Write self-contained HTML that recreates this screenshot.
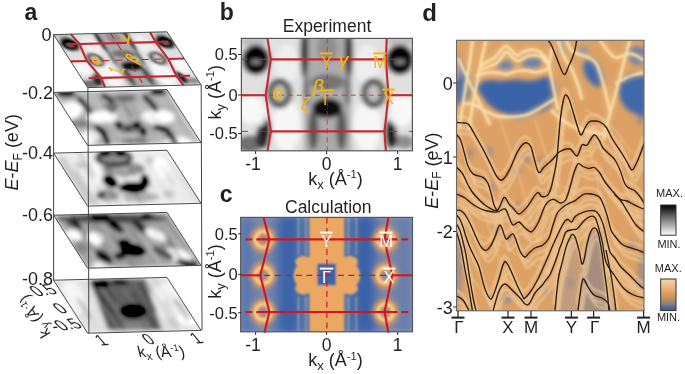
<!DOCTYPE html><html><head><meta charset="utf-8"><style>
html,body{margin:0;padding:0;background:#fff;overflow:hidden}svg{display:block;will-change:transform}
</style></head><body>
<svg width="685" height="374" viewBox="0 0 685 374">
<defs>
<filter id="b2" x="-20%" y="-20%" width="140%" height="140%"><feGaussianBlur stdDeviation="2.4"/></filter>
<filter id="b15" x="-20%" y="-20%" width="140%" height="140%"><feGaussianBlur stdDeviation="2.0"/><feComponentTransfer><feFuncR type="linear" slope="1.15" intercept="-0.06"/><feFuncG type="linear" slope="1.15" intercept="-0.06"/><feFuncB type="linear" slope="1.15" intercept="-0.06"/></feComponentTransfer></filter>
<filter id="b1" x="-20%" y="-20%" width="140%" height="140%"><feGaussianBlur stdDeviation="1"/></filter>
<filter id="b3" x="-20%" y="-20%" width="140%" height="140%"><feGaussianBlur stdDeviation="4.5"/></filter>
<filter id="b05"><feGaussianBlur stdDeviation="0.6"/></filter>
<clipPath id="cl"><rect x="0" y="0" width="170.0" height="112.8"/></clipPath>
<g id="fstex"><g clip-path="url(#cl)"><g filter="url(#b2)"><rect x="-5" y="-5" width="180" height="123" fill="#e0e0e0"/>
<ellipse cx="45" cy="88" rx="14" ry="26" fill="#f6f6f6"/>
<ellipse cx="45" cy="26" rx="12" ry="20" fill="#eeeeee"/>
<ellipse cx="125" cy="88" rx="14" ry="26" fill="#f6f6f6"/>
<ellipse cx="125" cy="26" rx="12" ry="20" fill="#eeeeee"/>
<ellipse cx="10" cy="72" rx="14" ry="14" fill="#f8f8f8"/>
<ellipse cx="160" cy="72" rx="12" ry="16" fill="#f8f8f8"/>
<ellipse cx="12" cy="3" rx="14" ry="5" fill="#bdbdbd"/>
<ellipse cx="158" cy="3" rx="14" ry="5" fill="#bdbdbd"/>
<rect x="62" y="-5" width="47" height="123" fill="#acacac"/>
<ellipse cx="85.5" cy="10" rx="10" ry="14" fill="#8e8e8e"/>
<ellipse cx="85.5" cy="44" rx="17" ry="8" fill="#757575"/>
<ellipse cx="62.5" cy="14" rx="3.8" ry="26" fill="#1e1e1e"/>
<ellipse cx="107" cy="14" rx="3.8" ry="26" fill="#1e1e1e"/>
<ellipse cx="64" cy="52" rx="3" ry="16" fill="#666"/>
<ellipse cx="106" cy="52" rx="3" ry="16" fill="#666"/>
<ellipse cx="71.5" cy="92" rx="5" ry="20" fill="#555"/>
<ellipse cx="99.5" cy="92" rx="5" ry="20" fill="#555"/>
<ellipse cx="85.5" cy="100" rx="7" ry="12" fill="#a8a8a8"/>
<ellipse cx="85.3" cy="70" rx="15" ry="10" fill="#080808"/>
<ellipse cx="14.5" cy="21.5" rx="14" ry="15" fill="#000"/>
<ellipse cx="14.5" cy="23.5" rx="5" ry="2.6" fill="#8a8a8a"/>
<ellipse cx="157.5" cy="21.5" rx="14" ry="15" fill="#000"/>
<ellipse cx="157.5" cy="23.5" rx="5" ry="2.6" fill="#8a8a8a"/>
<ellipse cx="38" cy="55" rx="9.5" ry="12" fill="#c4c4c4" stroke="#555" stroke-width="6.5"/>
<ellipse cx="131.5" cy="55" rx="9.5" ry="12" fill="#c4c4c4" stroke="#555" stroke-width="6.5"/>
<ellipse cx="8" cy="106" rx="13" ry="9" fill="#707070"/>
<ellipse cx="21" cy="99" rx="7" ry="12" fill="#2a2a2a"/>
<ellipse cx="25.5" cy="92" rx="3.5" ry="11" fill="#080808"/>
<ellipse cx="162" cy="104" rx="10" ry="7" fill="#8e8e8e"/>
<ellipse cx="149" cy="98" rx="6" ry="13" fill="#222"/>
<ellipse cx="146.5" cy="93" rx="3.5" ry="11" fill="#080808"/></g></g></g>
<g id="fsred"><polyline points="25.9,0.0 29.3,21.0 24.2,57.2 29.3,93.3 25.9,113.0" fill="none" stroke="#c4272e" stroke-width="2.1" stroke-linejoin="round" vector-effect="non-scaling-stroke"/>
<polyline points="144.5,0.0 143.6,21.0 146.2,57.2 142.3,93.3 143.6,113.0" fill="none" stroke="#c4272e" stroke-width="2.1" stroke-linejoin="round" vector-effect="non-scaling-stroke"/>
<line x1="29.3" y1="21.0" x2="143.6" y2="21.0" stroke="#c4272e" stroke-width="2.1" vector-effect="non-scaling-stroke"/>
<line x1="25.3" y1="21.0" x2="0" y2="21.0" stroke="#c4272e" stroke-width="1.0" stroke-dasharray="7 12" vector-effect="non-scaling-stroke"/>
<line x1="147.6" y1="21.0" x2="170" y2="21.0" stroke="#c4272e" stroke-width="1.0" stroke-dasharray="7 12" vector-effect="non-scaling-stroke"/>
<line x1="29.3" y1="93.3" x2="143.6" y2="93.3" stroke="#c4272e" stroke-width="2.1" vector-effect="non-scaling-stroke"/>
<line x1="25.3" y1="93.3" x2="0" y2="93.3" stroke="#c4272e" stroke-width="1.0" stroke-dasharray="7 12" vector-effect="non-scaling-stroke"/>
<line x1="147.6" y1="93.3" x2="170" y2="93.3" stroke="#c4272e" stroke-width="1.0" stroke-dasharray="7 12" vector-effect="non-scaling-stroke"/>
<line x1="0" y1="57.0" x2="24.2" y2="57.0" stroke="#c4272e" stroke-width="2.1" vector-effect="non-scaling-stroke"/>
<line x1="146.2" y1="57.0" x2="170" y2="57.0" stroke="#c4272e" stroke-width="2.1" vector-effect="non-scaling-stroke"/>
<line x1="28.2" y1="57.0" x2="143.2" y2="57.0" stroke="#c4272e" stroke-width="0.8" stroke-dasharray="5 4" vector-effect="non-scaling-stroke"/>
<line x1="85.3" y1="0" x2="85.3" y2="113" stroke="#c4272e" stroke-width="0.8" stroke-dasharray="5 4" vector-effect="non-scaling-stroke"/></g>
<g id="fsred1"><polyline points="25.9,0.0 29.3,21.0 24.2,57.2 29.3,93.3 25.9,113.0" fill="none" stroke="#c4272e" stroke-width="2.1" stroke-linejoin="round" vector-effect="non-scaling-stroke"/>
<polyline points="144.5,0.0 143.6,21.0 146.2,57.2 142.3,93.3 143.6,113.0" fill="none" stroke="#c4272e" stroke-width="2.1" stroke-linejoin="round" vector-effect="non-scaling-stroke"/>
<line x1="29.3" y1="21.0" x2="143.6" y2="21.0" stroke="#c4272e" stroke-width="2.1" vector-effect="non-scaling-stroke"/>
<line x1="25.3" y1="21.0" x2="0" y2="21.0" stroke="#c4272e" stroke-width="2.0" stroke-dasharray="10 14" vector-effect="non-scaling-stroke"/>
<line x1="147.6" y1="21.0" x2="170" y2="21.0" stroke="#c4272e" stroke-width="2.0" stroke-dasharray="10 14" vector-effect="non-scaling-stroke"/>
<line x1="29.3" y1="93.3" x2="143.6" y2="93.3" stroke="#c4272e" stroke-width="2.1" vector-effect="non-scaling-stroke"/>
<line x1="25.3" y1="93.3" x2="0" y2="93.3" stroke="#c4272e" stroke-width="2.0" stroke-dasharray="10 14" vector-effect="non-scaling-stroke"/>
<line x1="147.6" y1="93.3" x2="170" y2="93.3" stroke="#c4272e" stroke-width="2.0" stroke-dasharray="10 14" vector-effect="non-scaling-stroke"/>
<line x1="0" y1="57.0" x2="24.2" y2="57.0" stroke="#c4272e" stroke-width="2.1" vector-effect="non-scaling-stroke"/>
<line x1="146.2" y1="57.0" x2="170" y2="57.0" stroke="#c4272e" stroke-width="2.1" vector-effect="non-scaling-stroke"/>
<line x1="28.2" y1="57.0" x2="143.2" y2="57.0" stroke="#c4272e" stroke-width="1.0" stroke-dasharray="7 6" vector-effect="non-scaling-stroke"/>
<line x1="85.3" y1="0" x2="85.3" y2="113" stroke="#c4272e" stroke-width="1.0" stroke-dasharray="7 6" vector-effect="non-scaling-stroke"/></g>
<g id="fsgreek"><text transform="translate(37.8,56.5) rotate(-20)" x="0" y="8.2" font-size="25" text-anchor="middle" font-style="italic" fill="#f5b512" stroke="#f5b512" stroke-width="0.8" font-family='"Liberation Sans", sans-serif'>α</text><text transform="translate(104.3,10.5) rotate(0)" x="0" y="8.2" font-size="25" text-anchor="middle" font-style="italic" fill="#f5b512" stroke="#f5b512" stroke-width="0.8" font-family='"Liberation Sans", sans-serif'>γ</text><text transform="translate(93.7,54.2) rotate(-50)" x="0" y="8.2" font-size="25" text-anchor="middle" font-style="italic" fill="#f5b512" stroke="#f5b512" stroke-width="0.8" font-family='"Liberation Sans", sans-serif'>β</text><text transform="translate(60.5,78.7) rotate(-90)" x="0" y="8.2" font-size="25" text-anchor="middle" font-style="italic" fill="#f5b512" stroke="#f5b512" stroke-width="0.8" font-family='"Liberation Sans", sans-serif'>ζ</text></g>
<linearGradient id="gbar" x1="0" y1="0" x2="0" y2="1"><stop offset="0" stop-color="#000"/><stop offset="0.45" stop-color="#777"/><stop offset="1" stop-color="#fff"/></linearGradient>
<linearGradient id="obar" x1="0" y1="0" x2="0" y2="1"><stop offset="0" stop-color="#f6d8aa"/><stop offset="0.5" stop-color="#dc9a55"/><stop offset="0.75" stop-color="#9a8478"/><stop offset="1" stop-color="#2c56a8"/></linearGradient>
</defs>
<clipPath id="pa0"><polygon points="53.6,34.6 167.0,31.8 201.0,84.8 87.6,87.6"/></clipPath>
<clipPath id="pa1"><polygon points="53.6,92.4 167.0,89.6 201.0,142.6 87.6,145.4"/></clipPath>
<clipPath id="pa2"><polygon points="53.6,153.1 167.0,150.3 201.0,203.3 87.6,206.1"/></clipPath>
<clipPath id="pa3"><polygon points="53.6,215.2 167.0,212.4 201.0,265.4 87.6,268.2"/></clipPath>
<clipPath id="pa4"><polygon points="53.6,280.2 167.0,277.4 201.0,330.4 87.6,333.2"/></clipPath>
<line x1="53.6" y1="34.6" x2="53.6" y2="280.2" stroke="#444" stroke-width="1"/>
<g transform="matrix(0.66706,-0.01647,0.30088,0.46903,53.6,34.6)"><use href="#fstex"/><use href="#fsred1"/><use href="#fsgreek"/></g>
<polygon points="53.6,34.6 167.0,31.8 201.0,84.8 87.6,87.6" fill="none" stroke="#3a3a3a" stroke-width="0.9"/>
<g clip-path="url(#pa1)"><g filter="url(#b15)"><polygon points="53.6,92.4 167.0,89.6 201.0,142.6 87.6,145.4" fill="#b4b4b4"/><ellipse cx="71.5" cy="110" rx="11" ry="8" fill="#fafafa"/><ellipse cx="102" cy="117" rx="15" ry="6" fill="#fafafa"/><ellipse cx="158" cy="117" rx="17" ry="7" fill="#f8f8f8"/><ellipse cx="90" cy="137" rx="9" ry="7" fill="#f4f4f4"/><ellipse cx="178" cy="142" rx="14" ry="5" fill="#f8f8f8"/><ellipse cx="70" cy="130" rx="8" ry="8" fill="#dcdcdc"/><ellipse cx="78" cy="124" rx="10" ry="4" fill="#8a8a8a"/><ellipse cx="66" cy="94" rx="11" ry="2.8" fill="#050505"/><ellipse cx="158" cy="92.3" rx="9" ry="2.8" fill="#050505"/><ellipse cx="125" cy="98" rx="12" ry="3.5" fill="#777"/><path d="M79.3,99 L85.8,105.5 L90.2,112" fill="none" stroke="#0a0a0a" stroke-width="4.5" stroke-linecap="round" stroke-linejoin="round"/><path d="M103.4,95.7 L110,99 L114.3,105.5 L112,111" fill="none" stroke="#222" stroke-width="4.5" stroke-linecap="round" stroke-linejoin="round"/><path d="M145,96.8 L151.5,103.3 L156,110" fill="none" stroke="#080808" stroke-width="4.5" stroke-linecap="round" stroke-linejoin="round"/><path d="M96.8,127.4 L103.4,131.8 L107.7,142.7" fill="none" stroke="#050505" stroke-width="5" stroke-linecap="round" stroke-linejoin="round"/><ellipse cx="130" cy="128" rx="14" ry="5" fill="#707070"/><ellipse cx="118.7" cy="124.5" rx="4" ry="3" fill="#080808"/><ellipse cx="128" cy="129" rx="3.5" ry="2.8" fill="#202020"/><ellipse cx="137" cy="124.5" rx="4" ry="3" fill="#080808"/><ellipse cx="143.5" cy="131.8" rx="3" ry="4.5" fill="#080808"/><ellipse cx="112" cy="106" rx="8" ry="4" fill="#777"/><path d="M156,127.4 L166.8,129.6 L172.3,138.4 L175.6,143" fill="none" stroke="#050505" stroke-width="5" stroke-linecap="round" stroke-linejoin="round"/><ellipse cx="135" cy="141" rx="14" ry="3" fill="#777"/><g transform="matrix(0.66706,-0.01647,0.30088,0.46903,53.6,92.4)"><rect x="0.0" y="-9.0" width="4.3" height="71.6" fill="#fff" opacity="0.14"/><rect x="6.3" y="24.3" width="3.1" height="36.8" fill="#fff" opacity="0.07"/><rect x="13.2" y="50.2" width="5.0" height="84.3" fill="#000" opacity="0.07"/><rect x="19.7" y="38.0" width="3.1" height="89.6" fill="#000" opacity="0.13"/><rect x="23.3" y="32.9" width="5.1" height="34.0" fill="#fff" opacity="0.22"/><rect x="28.4" y="44.0" width="2.5" height="51.6" fill="#000" opacity="0.15"/><rect x="33.6" y="30.9" width="3.8" height="106.0" fill="#fff" opacity="0.07"/><rect x="38.1" y="-7.8" width="2.9" height="57.1" fill="#fff" opacity="0.10"/><rect x="43.4" y="29.7" width="2.3" height="63.7" fill="#000" opacity="0.08"/><rect x="48.1" y="58.7" width="2.5" height="47.2" fill="#000" opacity="0.13"/><rect x="51.9" y="9.2" width="5.9" height="85.6" fill="#fff" opacity="0.10"/><rect x="58.5" y="36.2" width="2.5" height="114.9" fill="#fff" opacity="0.11"/><rect x="61.7" y="5.7" width="2.7" height="79.0" fill="#000" opacity="0.11"/><rect x="64.6" y="21.4" width="5.6" height="82.5" fill="#fff" opacity="0.07"/><rect x="71.7" y="59.5" width="5.5" height="54.5" fill="#fff" opacity="0.18"/><rect x="79.1" y="22.3" width="4.0" height="66.1" fill="#fff" opacity="0.14"/><rect x="84.8" y="39.1" width="4.3" height="80.3" fill="#444" opacity="0.12"/><rect x="89.6" y="20.7" width="5.9" height="35.8" fill="#000" opacity="0.20"/><rect x="96.8" y="59.5" width="2.6" height="73.7" fill="#444" opacity="0.13"/><rect x="101.3" y="14.0" width="3.7" height="53.3" fill="#444" opacity="0.21"/><rect x="108.2" y="53.7" width="3.8" height="43.8" fill="#000" opacity="0.16"/><rect x="113.0" y="31.2" width="4.5" height="104.6" fill="#fff" opacity="0.16"/><rect x="119.4" y="50.1" width="5.2" height="94.6" fill="#000" opacity="0.13"/><rect x="128.1" y="57.4" width="2.2" height="118.3" fill="#444" opacity="0.18"/><rect x="131.5" y="18.0" width="4.7" height="100.8" fill="#fff" opacity="0.12"/><rect x="140.1" y="4.5" width="2.7" height="38.6" fill="#444" opacity="0.09"/><rect x="146.8" y="42.6" width="5.6" height="104.5" fill="#fff" opacity="0.20"/><rect x="155.3" y="31.8" width="3.8" height="40.4" fill="#444" opacity="0.09"/><rect x="162.2" y="51.2" width="2.0" height="108.4" fill="#fff" opacity="0.16"/><rect x="166.8" y="47.7" width="2.3" height="61.3" fill="#fff" opacity="0.19"/></g></g></g>
<polygon points="53.6,92.4 167.0,89.6 201.0,142.6 87.6,145.4" fill="none" stroke="#3a3a3a" stroke-width="0.9"/>
<g clip-path="url(#pa2)"><g filter="url(#b15)"><polygon points="53.6,153.1 167.0,150.3 201.0,203.3 87.6,206.1" fill="#e4e4e4"/><ellipse cx="96" cy="174" rx="6" ry="12" fill="#f8f8f8"/><ellipse cx="160" cy="168" rx="8" ry="11" fill="#f8f8f8"/><ellipse cx="124" cy="169" rx="21" ry="7" fill="#8a8a8a"/><ellipse cx="122" cy="170" rx="8" ry="3" fill="#b0b0b0"/><ellipse cx="114" cy="158" rx="17" ry="6.5" fill="#9a9a9a" stroke="#444" stroke-width="4"/><ellipse cx="104.5" cy="153.8" rx="5.5" ry="2.8" fill="#050505"/><ellipse cx="121" cy="153.8" rx="5.5" ry="2.8" fill="#050505"/><ellipse cx="108" cy="195" rx="12" ry="6" fill="#a4a4a4"/><ellipse cx="101" cy="195" rx="4.5" ry="3.5" fill="#505050"/><ellipse cx="141" cy="197" rx="18" ry="5" fill="#acacac"/><ellipse cx="80" cy="165" rx="5" ry="3" fill="#bdbdbd"/><ellipse cx="169" cy="194" rx="6" ry="4" fill="#c4c4c4"/><ellipse cx="150" cy="160" rx="4" ry="3" fill="#c8c8c8"/><ellipse cx="132.7" cy="187.6" rx="14.5" ry="5.5" fill="#000"/><ellipse cx="110.4" cy="181.3" rx="8.5" ry="5.5" fill="#000" transform="rotate(35 110.4 181.3)"/><ellipse cx="145" cy="181" rx="4.5" ry="7" fill="#050505" transform="rotate(-10 145 181)"/><g transform="matrix(0.66706,-0.01647,0.30088,0.46903,53.6,153.1)"><rect x="0.0" y="10.3" width="4.1" height="98.9" fill="#000" opacity="0.21"/><rect x="6.9" y="7.4" width="4.6" height="103.4" fill="#000" opacity="0.21"/><rect x="13.2" y="37.9" width="5.4" height="95.2" fill="#000" opacity="0.16"/><rect x="19.2" y="51.3" width="4.2" height="43.6" fill="#fff" opacity="0.19"/><rect x="26.2" y="-1.4" width="4.2" height="94.4" fill="#fff" opacity="0.11"/><rect x="30.8" y="23.2" width="3.6" height="119.7" fill="#444" opacity="0.21"/><rect x="35.0" y="-8.8" width="5.2" height="63.5" fill="#444" opacity="0.21"/><rect x="40.4" y="23.4" width="5.0" height="82.2" fill="#000" opacity="0.07"/><rect x="45.4" y="57.0" width="3.6" height="77.4" fill="#000" opacity="0.15"/><rect x="50.5" y="32.3" width="3.1" height="80.0" fill="#000" opacity="0.09"/><rect x="55.8" y="12.3" width="2.5" height="59.9" fill="#000" opacity="0.21"/><rect x="61.9" y="-6.5" width="4.3" height="119.1" fill="#000" opacity="0.11"/><rect x="66.3" y="41.0" width="5.0" height="57.9" fill="#fff" opacity="0.16"/><rect x="71.6" y="29.5" width="5.9" height="91.7" fill="#fff" opacity="0.06"/><rect x="79.2" y="2.8" width="4.9" height="119.6" fill="#444" opacity="0.19"/><rect x="87.9" y="58.1" width="4.7" height="57.5" fill="#fff" opacity="0.07"/><rect x="96.2" y="54.8" width="3.3" height="38.4" fill="#000" opacity="0.07"/><rect x="102.6" y="27.9" width="5.4" height="78.9" fill="#fff" opacity="0.14"/><rect x="111.8" y="46.1" width="2.9" height="34.4" fill="#000" opacity="0.15"/><rect x="118.3" y="18.6" width="4.3" height="86.4" fill="#fff" opacity="0.10"/><rect x="122.9" y="12.3" width="3.8" height="47.0" fill="#fff" opacity="0.10"/><rect x="128.2" y="19.6" width="2.1" height="110.4" fill="#444" opacity="0.15"/><rect x="131.7" y="11.9" width="4.3" height="45.5" fill="#444" opacity="0.10"/><rect x="139.9" y="31.4" width="2.8" height="76.7" fill="#fff" opacity="0.12"/><rect x="144.8" y="28.7" width="2.8" height="46.1" fill="#444" opacity="0.20"/><rect x="149.4" y="23.2" width="5.4" height="31.1" fill="#fff" opacity="0.15"/><rect x="155.9" y="13.0" width="6.0" height="34.7" fill="#fff" opacity="0.11"/><rect x="162.2" y="23.0" width="4.7" height="111.5" fill="#000" opacity="0.06"/><rect x="169.4" y="47.4" width="6.0" height="118.7" fill="#000" opacity="0.18"/></g></g></g>
<polygon points="53.6,153.1 167.0,150.3 201.0,203.3 87.6,206.1" fill="none" stroke="#3a3a3a" stroke-width="0.9"/>
<g clip-path="url(#pa3)"><g filter="url(#b15)"><polygon points="53.6,215.2 167.0,212.4 201.0,265.4 87.6,268.2" fill="#a2a2a2"/><ellipse cx="112" cy="218.5" rx="56" ry="4.5" fill="#5e5e5e"/><ellipse cx="100" cy="217" rx="9" ry="3" fill="#222"/><ellipse cx="147" cy="216" rx="7" ry="2.5" fill="#2a2a2a"/><ellipse cx="74" cy="224" rx="9" ry="3.5" fill="#3a3a3a" transform="rotate(30 74 224)"/><ellipse cx="115" cy="226" rx="11" ry="4" fill="#3a3a3a" transform="rotate(35 115 226)"/><ellipse cx="141" cy="228" rx="11" ry="4" fill="#444" transform="rotate(35 141 228)"/><ellipse cx="74" cy="235" rx="8" ry="5" fill="#fafafa" transform="rotate(25 74 235)"/><ellipse cx="95.5" cy="238.5" rx="8" ry="6" fill="#fafafa" transform="rotate(25 95.5 238.5)"/><ellipse cx="156" cy="235" rx="12" ry="4.5" fill="#f6f6f6" transform="rotate(25 156 235)"/><ellipse cx="178" cy="256" rx="15" ry="7" fill="#f6f6f6" transform="rotate(15 178 256)"/><ellipse cx="101" cy="264.5" rx="9" ry="3.5" fill="#e8e8e8"/><ellipse cx="104" cy="257" rx="10" ry="5" fill="#2a2a2a" transform="rotate(40 104 257)"/><ellipse cx="163" cy="253" rx="12" ry="4" fill="#555" transform="rotate(30 163 253)"/><ellipse cx="188" cy="263" rx="12" ry="3" fill="#2a2a2a" transform="rotate(10 188 263)"/><ellipse cx="82" cy="248" rx="8" ry="6" fill="#8a8a8a"/><ellipse cx="133" cy="250" rx="13" ry="6" fill="#050505" transform="rotate(10 133 250)"/><ellipse cx="120" cy="256" rx="6" ry="4" fill="#333"/><ellipse cx="124" cy="243" rx="6" ry="4" fill="#222"/><g transform="matrix(0.66706,-0.01647,0.30088,0.46903,53.6,215.2)"><rect x="0.0" y="59.9" width="4.8" height="47.5" fill="#444" opacity="0.09"/><rect x="7.5" y="9.8" width="2.4" height="113.0" fill="#fff" opacity="0.19"/><rect x="10.0" y="1.8" width="3.9" height="74.2" fill="#000" opacity="0.06"/><rect x="17.2" y="-4.0" width="4.7" height="98.5" fill="#fff" opacity="0.21"/><rect x="25.3" y="-4.8" width="2.6" height="88.4" fill="#000" opacity="0.21"/><rect x="30.6" y="52.6" width="2.1" height="36.3" fill="#fff" opacity="0.11"/><rect x="33.1" y="59.4" width="4.7" height="107.4" fill="#fff" opacity="0.19"/><rect x="38.8" y="24.6" width="5.0" height="43.9" fill="#fff" opacity="0.07"/><rect x="44.4" y="-0.8" width="3.9" height="75.5" fill="#444" opacity="0.22"/><rect x="52.3" y="-4.1" width="5.1" height="42.3" fill="#444" opacity="0.19"/><rect x="58.6" y="45.6" width="4.2" height="66.3" fill="#fff" opacity="0.12"/><rect x="64.6" y="42.0" width="5.3" height="104.3" fill="#000" opacity="0.18"/><rect x="71.3" y="51.0" width="5.5" height="93.3" fill="#000" opacity="0.07"/><rect x="78.6" y="59.2" width="5.1" height="94.0" fill="#000" opacity="0.07"/><rect x="87.0" y="49.5" width="4.2" height="105.4" fill="#444" opacity="0.14"/><rect x="92.3" y="53.5" width="3.5" height="101.9" fill="#fff" opacity="0.11"/><rect x="98.4" y="-8.9" width="2.1" height="88.1" fill="#000" opacity="0.21"/><rect x="102.0" y="16.7" width="3.6" height="98.4" fill="#000" opacity="0.10"/><rect x="106.9" y="23.7" width="4.9" height="101.4" fill="#fff" opacity="0.21"/><rect x="112.4" y="53.0" width="2.9" height="49.2" fill="#fff" opacity="0.14"/><rect x="117.1" y="-4.3" width="2.7" height="51.1" fill="#000" opacity="0.08"/><rect x="119.9" y="53.5" width="5.9" height="101.4" fill="#fff" opacity="0.07"/><rect x="126.2" y="43.5" width="2.7" height="83.7" fill="#fff" opacity="0.18"/><rect x="131.0" y="35.8" width="4.1" height="70.8" fill="#000" opacity="0.10"/><rect x="137.7" y="3.4" width="3.6" height="43.8" fill="#fff" opacity="0.11"/><rect x="141.9" y="49.5" width="5.9" height="87.7" fill="#000" opacity="0.21"/><rect x="148.3" y="52.7" width="2.4" height="112.7" fill="#444" opacity="0.16"/><rect x="152.5" y="29.5" width="2.8" height="72.8" fill="#fff" opacity="0.22"/><rect x="156.7" y="55.2" width="5.0" height="45.2" fill="#fff" opacity="0.20"/><rect x="162.5" y="11.5" width="5.3" height="91.1" fill="#000" opacity="0.10"/></g></g></g>
<polygon points="53.6,215.2 167.0,212.4 201.0,265.4 87.6,268.2" fill="none" stroke="#3a3a3a" stroke-width="0.9"/>
<g clip-path="url(#pa4)"><g filter="url(#b15)"><polygon points="53.6,280.2 167.0,277.4 201.0,330.4 87.6,333.2" fill="#d8d8d8"/><ellipse cx="70" cy="300" rx="14" ry="18" fill="#ececec"/><ellipse cx="172" cy="300" rx="22" ry="18" fill="#ececec"/><ellipse cx="187" cy="320" rx="12" ry="6" fill="#fafafa"/><polygon points="90,279.5 145,278.5 162,330 108,330" fill="#707070"/><ellipse cx="100" cy="284" rx="10" ry="4" fill="#2e2e2e"/><ellipse cx="120" cy="282" rx="9" ry="3" fill="#3a3a3a"/><path d="M95,290 L104,300 L112,312" fill="none" stroke="#555" stroke-width="4" stroke-linecap="round" stroke-linejoin="round"/><path d="M140,285 L148,298 L154,310" fill="none" stroke="#555" stroke-width="4" stroke-linecap="round" stroke-linejoin="round"/><path d="M78,300 L84,308 L90,318" fill="none" stroke="#aaa" stroke-width="3" stroke-linecap="round" stroke-linejoin="round"/><path d="M176,300 L182,308 L188,318" fill="none" stroke="#999" stroke-width="3" stroke-linecap="round" stroke-linejoin="round"/><ellipse cx="133" cy="311" rx="13" ry="6.5" fill="#000"/><ellipse cx="135" cy="325" rx="14" ry="4" fill="#8a8a8a"/><g transform="matrix(0.66706,-0.01647,0.30088,0.46903,53.6,280.2)"><rect x="0.0" y="-0.1" width="2.0" height="33.9" fill="#000" opacity="0.18"/><rect x="5.9" y="41.8" width="4.1" height="89.6" fill="#fff" opacity="0.08"/><rect x="10.5" y="4.3" width="4.1" height="83.4" fill="#fff" opacity="0.14"/><rect x="15.2" y="4.4" width="5.1" height="65.3" fill="#fff" opacity="0.11"/><rect x="22.6" y="36.4" width="3.0" height="35.4" fill="#fff" opacity="0.13"/><rect x="25.8" y="48.5" width="2.7" height="119.0" fill="#fff" opacity="0.09"/><rect x="28.7" y="5.3" width="4.9" height="101.7" fill="#fff" opacity="0.16"/><rect x="36.5" y="8.4" width="2.8" height="56.4" fill="#fff" opacity="0.14"/><rect x="41.6" y="58.4" width="3.9" height="119.4" fill="#000" opacity="0.21"/><rect x="48.7" y="55.5" width="3.2" height="105.4" fill="#fff" opacity="0.15"/><rect x="53.1" y="32.1" width="2.7" height="92.6" fill="#000" opacity="0.21"/><rect x="56.1" y="59.4" width="3.6" height="47.7" fill="#000" opacity="0.16"/><rect x="61.6" y="-6.6" width="5.2" height="94.3" fill="#fff" opacity="0.12"/><rect x="67.8" y="4.1" width="5.5" height="44.6" fill="#000" opacity="0.21"/><rect x="77.3" y="45.2" width="2.6" height="55.0" fill="#000" opacity="0.14"/><rect x="81.4" y="-2.2" width="4.5" height="42.4" fill="#444" opacity="0.07"/><rect x="88.7" y="43.6" width="4.8" height="118.7" fill="#000" opacity="0.10"/><rect x="94.9" y="21.2" width="2.0" height="119.4" fill="#fff" opacity="0.15"/><rect x="97.5" y="33.0" width="4.3" height="48.6" fill="#444" opacity="0.07"/><rect x="102.5" y="28.8" width="5.3" height="80.3" fill="#000" opacity="0.17"/><rect x="109.9" y="26.7" width="4.8" height="94.5" fill="#444" opacity="0.12"/><rect x="116.5" y="16.0" width="4.9" height="77.0" fill="#fff" opacity="0.11"/><rect x="122.8" y="30.6" width="2.8" height="45.0" fill="#000" opacity="0.17"/><rect x="129.0" y="7.2" width="2.5" height="109.4" fill="#fff" opacity="0.09"/><rect x="132.3" y="7.0" width="5.6" height="100.1" fill="#000" opacity="0.15"/><rect x="140.8" y="48.0" width="5.3" height="54.7" fill="#000" opacity="0.14"/><rect x="148.2" y="-7.7" width="3.7" height="69.9" fill="#000" opacity="0.09"/><rect x="154.8" y="38.9" width="3.0" height="63.1" fill="#000" opacity="0.12"/><rect x="160.8" y="38.6" width="2.3" height="109.9" fill="#fff" opacity="0.20"/><rect x="164.9" y="-5.2" width="4.6" height="43.9" fill="#fff" opacity="0.13"/></g></g></g>
<polygon points="53.6,280.2 167.0,277.4 201.0,330.4 87.6,333.2" fill="none" stroke="#3a3a3a" stroke-width="0.9"/>
<line x1="87.9" y1="87.6" x2="88.9" y2="333.2" stroke="#444" stroke-width="1"/>
<line x1="201.2" y1="84.8" x2="202" y2="330.4" stroke="#444" stroke-width="1"/>
<text x="24.6" y="19.8" font-size="23" text-anchor="start" font-weight="bold" font-style="normal" fill="#231f20" font-family='"Liberation Sans", sans-serif' >a</text>
<text x="51.6" y="41" font-size="18" text-anchor="end" font-weight="normal" font-style="normal" fill="#231f20" font-family='"Liberation Sans", sans-serif' >0</text>
<text x="53.0" y="98.80000000000001" font-size="18" text-anchor="end" font-weight="normal" font-style="normal" fill="#231f20" font-family='"Liberation Sans", sans-serif' >-0.2</text>
<text x="53.0" y="159.1" font-size="18" text-anchor="end" font-weight="normal" font-style="normal" fill="#231f20" font-family='"Liberation Sans", sans-serif' >-0.4</text>
<text x="53.0" y="220.79999999999998" font-size="18" text-anchor="end" font-weight="normal" font-style="normal" fill="#231f20" font-family='"Liberation Sans", sans-serif' >-0.6</text>
<text x="53.0" y="285.0" font-size="18" text-anchor="end" font-weight="normal" font-style="normal" fill="#231f20" font-family='"Liberation Sans", sans-serif' >-0.8</text>
<text transform="translate(18,190.5) rotate(-90)" font-size="18" fill="#231f20" font-family='"Liberation Sans", sans-serif'><tspan font-style="italic">E</tspan>-<tspan font-style="italic">E</tspan><tspan font-size="12" dy="3.5">F</tspan><tspan dy="-3.5"> (eV)</tspan></text>
<text transform="translate(37,296.5) rotate(-8) skewX(38)" font-size="16" fill="#231f20" font-family='"Liberation Sans", sans-serif'>0.5</text>
<text transform="translate(60.5,313.8) rotate(-8) skewX(38)" font-size="16" fill="#231f20" font-family='"Liberation Sans", sans-serif'>0</text>
<text transform="translate(56.5,331.5) rotate(-8) skewX(38)" font-size="16" fill="#231f20" font-family='"Liberation Sans", sans-serif'>-0.5</text>
<text transform="translate(51,334) rotate(-120)" font-size="15.5" fill="#231f20" font-family='"Liberation Sans", sans-serif'>k<tspan font-size="11.2" dy="3.4">y</tspan><tspan dy="-3.4"> (Å</tspan><tspan font-size="9.6" dy="-5.6">-1</tspan><tspan dy="5.6">)</tspan></text>
<text transform="translate(101,345.5) rotate(-4) skewX(36)" font-size="15.5" fill="#231f20" font-family='"Liberation Sans", sans-serif'>1</text>
<text transform="translate(148,344.5) rotate(-4) skewX(36)" font-size="15.5" fill="#231f20" font-family='"Liberation Sans", sans-serif'>0</text>
<text transform="translate(196,343.5) rotate(-4) skewX(36)" font-size="15.5" fill="#231f20" font-family='"Liberation Sans", sans-serif'>1</text>
<text transform="translate(139,357) skewX(14)" font-size="15.5" fill="#231f20" font-family='"Liberation Sans", sans-serif'>k<tspan font-size="11.2" dy="3.4">x</tspan><tspan dy="-3.4"> (Å</tspan><tspan font-size="9.6" dy="-5.6">-1</tspan><tspan dy="5.6">)</tspan></text>
<g transform="translate(241.4,38.4) scale(1.00588,0.99646)">
<use href="#fstex"/><use href="#fsred"/>
<rect x="0" y="0" width="170.0" height="112.8" fill="none" stroke="#555" stroke-width="1.2"/>
</g>
<text x="219.8" y="19.6" font-size="23" text-anchor="start" font-weight="bold" font-style="normal" fill="#231f20" font-family='"Liberation Sans", sans-serif' >b</text>
<text x="327" y="32.4" font-size="17.5" text-anchor="middle" font-weight="normal" font-style="normal" fill="#231f20" font-family='"Liberation Sans", sans-serif' >Experiment</text>
<text x="326.4" y="67.8" font-size="16.5" text-anchor="middle" font-weight="normal" font-style="normal" fill="#f5b512" font-family='"Liberation Sans", sans-serif' >Y</text><rect x="320.1" y="52.4" width="12.5" height="2" fill="#f5b512"/>
<text x="380" y="67.8" font-size="16.5" text-anchor="middle" font-weight="normal" font-style="normal" fill="#f5b512" font-family='"Liberation Sans", sans-serif' >M</text><rect x="373.5" y="52.4" width="13" height="2" fill="#f5b512"/>
<text x="327.5" y="104.8" font-size="16.5" text-anchor="middle" font-weight="normal" font-style="normal" fill="#f5b512" font-family='"Liberation Sans", sans-serif' >Γ</text><rect x="320.8" y="89.4" width="13.5" height="2" fill="#f5b512"/>
<text x="388.5" y="104" font-size="16.5" text-anchor="middle" font-weight="normal" font-style="normal" fill="#f5b512" font-family='"Liberation Sans", sans-serif' >X</text><rect x="382.2" y="88.6" width="12.5" height="2" fill="#f5b512"/>
<text x="343.5" y="66" font-size="19" text-anchor="middle" font-weight="normal" font-style="italic" fill="#f5b512" font-family='"Liberation Sans", sans-serif' stroke="#f5b512" stroke-width="0.25">γ</text>
<text x="278" y="99" font-size="19" text-anchor="middle" font-weight="normal" font-style="italic" fill="#f5b512" font-family='"Liberation Sans", sans-serif' stroke="#f5b512" stroke-width="0.25">α</text>
<text x="318.5" y="91.5" font-size="19" text-anchor="middle" font-weight="normal" font-style="italic" fill="#f5b512" font-family='"Liberation Sans", sans-serif' stroke="#f5b512" stroke-width="0.25">β</text>
<text x="305.5" y="110" font-size="19" text-anchor="middle" font-weight="normal" font-style="italic" fill="#f5b512" font-family='"Liberation Sans", sans-serif' stroke="#f5b512" stroke-width="0.25">ζ</text>
<line x1="238" y1="54.5" x2="241.5" y2="54.5" stroke="#333" stroke-width="1"/>
<text x="237.8" y="60.4" font-size="16.5" text-anchor="end" font-weight="normal" font-style="normal" fill="#231f20" font-family='"Liberation Sans", sans-serif' >0.5</text>
<line x1="238" y1="95.0" x2="241.5" y2="95.0" stroke="#333" stroke-width="1"/>
<text x="237.8" y="100.9" font-size="16.5" text-anchor="end" font-weight="normal" font-style="normal" fill="#231f20" font-family='"Liberation Sans", sans-serif' >0</text>
<line x1="238" y1="133.5" x2="241.5" y2="133.5" stroke="#333" stroke-width="1"/>
<text x="237.8" y="139.4" font-size="16.5" text-anchor="end" font-weight="normal" font-style="normal" fill="#231f20" font-family='"Liberation Sans", sans-serif' >-0.5</text>
<line x1="255.6" y1="151.0" x2="255.6" y2="154.0" stroke="#333" stroke-width="1"/>
<text x="253.0" y="169.6" font-size="17.5" text-anchor="middle" font-weight="normal" font-style="normal" fill="#231f20" font-family='"Liberation Sans", sans-serif' >-1</text>
<line x1="326.6" y1="151.0" x2="326.6" y2="154.0" stroke="#333" stroke-width="1"/>
<text x="326.6" y="169.6" font-size="17.5" text-anchor="middle" font-weight="normal" font-style="normal" fill="#231f20" font-family='"Liberation Sans", sans-serif' >0</text>
<line x1="397.6" y1="151.0" x2="397.6" y2="154.0" stroke="#333" stroke-width="1"/>
<text x="397.6" y="169.6" font-size="17.5" text-anchor="middle" font-weight="normal" font-style="normal" fill="#231f20" font-family='"Liberation Sans", sans-serif' >1</text>
<text x="308.3" y="184.8" font-size="18" fill="#231f20" font-family='"Liberation Sans", sans-serif'>k<tspan font-size="13.0" dy="4.0">x</tspan><tspan dy="-4.0"> (Å</tspan><tspan font-size="11.2" dy="-6.5">-1</tspan><tspan dy="6.5">)</tspan></text>
<text transform="translate(220.5,119.5) rotate(-90)" font-size="18" fill="#231f20" font-family='"Liberation Sans", sans-serif'>k<tspan font-size="13.0" dy="4.0">y</tspan><tspan dy="-4.0"> (Å</tspan><tspan font-size="11.2" dy="-6.5">-1</tspan><tspan dy="6.5">)</tspan></text>
<g transform="translate(240.7,217.4) scale(1.01059,1.01416)"><g clip-path="url(#cl)">
<g filter="url(#b3)"><rect x="-5" y="-5" width="180" height="123" fill="#4f73ad"/>
<rect x="-5" y="-5" width="20" height="123" fill="#5b78ad"/>
<rect x="155" y="-5" width="20" height="123" fill="#6a7fac"/>
<rect x="14" y="-5" width="18" height="123" fill="#7d86a6"/>
<rect x="136" y="-5" width="18" height="123" fill="#7d86a6"/>
<rect x="40" y="-5" width="16" height="123" fill="#3a62a8"/>
<rect x="114" y="-5" width="18" height="123" fill="#3a62a8"/></g>
<g filter="url(#b1)"><line x1="57.1" y1="-2" x2="57.1" y2="37" stroke="#f0c288" stroke-width="1.3" opacity="0.6"/><line x1="57.1" y1="78" x2="57.1" y2="115" stroke="#f0c288" stroke-width="1.3" opacity="0.6"/><line x1="64.5" y1="-2" x2="64.5" y2="37" stroke="#f0c288" stroke-width="1.3" opacity="0.6"/><line x1="64.5" y1="78" x2="64.5" y2="115" stroke="#f0c288" stroke-width="1.3" opacity="0.6"/><line x1="106.5" y1="-2" x2="106.5" y2="37" stroke="#f0c288" stroke-width="1.3" opacity="0.6"/><line x1="106.5" y1="78" x2="106.5" y2="115" stroke="#f0c288" stroke-width="1.3" opacity="0.6"/><line x1="114.5" y1="-2" x2="114.5" y2="37" stroke="#f0c288" stroke-width="1.3" opacity="0.6"/><line x1="114.5" y1="78" x2="114.5" y2="115" stroke="#f0c288" stroke-width="1.3" opacity="0.6"/><rect x="68" y="-2" width="34.5" height="117" fill="#eba862"/><ellipse cx="85.3" cy="57.2" rx="33" ry="21" fill="#eba862"/><ellipse cx="62" cy="44" rx="8" ry="6" fill="#eba862"/><ellipse cx="108" cy="44" rx="8" ry="6" fill="#eba862"/><ellipse cx="62" cy="70" rx="8" ry="6" fill="#eba862"/><ellipse cx="108" cy="70" rx="8" ry="6" fill="#eba862"/><rect x="75.8" y="45.5" width="18.5" height="21.5" fill="#3d66aa"/></g>
<g filter="url(#b2)"><ellipse cx="22.3" cy="21.7" rx="8.5" ry="8.84" fill="none" stroke="#e3a062" stroke-width="8"/><ellipse cx="22.3" cy="57.1" rx="8.5" ry="8.84" fill="none" stroke="#e3a062" stroke-width="8"/><ellipse cx="22.3" cy="93.3" rx="8.5" ry="8.84" fill="none" stroke="#e3a062" stroke-width="8"/><ellipse cx="143.3" cy="21.7" rx="8.5" ry="8.84" fill="none" stroke="#e3a062" stroke-width="8"/><ellipse cx="143.3" cy="57.1" rx="8.5" ry="8.84" fill="none" stroke="#e3a062" stroke-width="8"/><ellipse cx="143.3" cy="93.3" rx="8.5" ry="8.84" fill="none" stroke="#e3a062" stroke-width="8"/></g>
<g filter="url(#b1)"><ellipse cx="22.3" cy="21.7" rx="7.6" ry="7.90" fill="none" stroke="#f6cc88" stroke-width="3.4"/><ellipse cx="22.3" cy="57.1" rx="7.6" ry="7.90" fill="none" stroke="#f6cc88" stroke-width="3.4"/><ellipse cx="22.3" cy="93.3" rx="7.6" ry="7.90" fill="none" stroke="#f6cc88" stroke-width="3.4"/><ellipse cx="143.3" cy="21.7" rx="7.6" ry="7.90" fill="none" stroke="#f6cc88" stroke-width="3.4"/><ellipse cx="143.3" cy="57.1" rx="7.6" ry="7.90" fill="none" stroke="#f6cc88" stroke-width="3.4"/><ellipse cx="143.3" cy="93.3" rx="7.6" ry="7.90" fill="none" stroke="#f6cc88" stroke-width="3.4"/></g>
</g>
<polyline points="22.6,0.0 28.4,21.7 19.4,57.1 28.4,93.3 23.5,113.7" fill="none" stroke="#d8141b" stroke-width="2.1" stroke-linejoin="round" vector-effect="non-scaling-stroke"/>
<polyline points="146.2,0.0 142.3,21.7 150.0,57.1 142.3,93.3 146.2,113.7" fill="none" stroke="#d8141b" stroke-width="2.1" stroke-linejoin="round" vector-effect="non-scaling-stroke"/>
<line x1="15.5" y1="21.7" x2="155" y2="21.7" stroke="#d8141b" stroke-width="2.1" vector-effect="non-scaling-stroke"/>
<line x1="11.5" y1="21.7" x2="0" y2="21.7" stroke="#d8141b" stroke-width="2.1" stroke-dasharray="7 5" vector-effect="non-scaling-stroke"/>
<line x1="159" y1="21.7" x2="170" y2="21.7" stroke="#d8141b" stroke-width="2.1" stroke-dasharray="7 5" vector-effect="non-scaling-stroke"/>
<line x1="15.5" y1="93.3" x2="155" y2="93.3" stroke="#d8141b" stroke-width="2.1" vector-effect="non-scaling-stroke"/>
<line x1="11.5" y1="93.3" x2="0" y2="93.3" stroke="#d8141b" stroke-width="2.1" stroke-dasharray="7 5" vector-effect="non-scaling-stroke"/>
<line x1="159" y1="93.3" x2="170" y2="93.3" stroke="#d8141b" stroke-width="2.1" stroke-dasharray="7 5" vector-effect="non-scaling-stroke"/>
<line x1="0" y1="57.1" x2="19.4" y2="57.1" stroke="#d8141b" stroke-width="2.1" vector-effect="non-scaling-stroke"/>
<line x1="150" y1="57.1" x2="170" y2="57.1" stroke="#d8141b" stroke-width="2.1" vector-effect="non-scaling-stroke"/>
<line x1="23.4" y1="57.1" x2="147" y2="57.1" stroke="#d8141b" stroke-width="1.2" stroke-dasharray="6 4.5" vector-effect="non-scaling-stroke"/>
<line x1="85.3" y1="0" x2="85.3" y2="113" stroke="#d8141b" stroke-width="1.2" stroke-dasharray="6 4.5" vector-effect="non-scaling-stroke"/>
<rect x="0" y="0" width="170.0" height="112.8" fill="none" stroke="#555" stroke-width="1.2"/>
</g>
<text x="219.8" y="201.5" font-size="23" text-anchor="start" font-weight="bold" font-style="normal" fill="#231f20" font-family='"Liberation Sans", sans-serif' >c</text>
<text x="328.3" y="212.8" font-size="17.5" text-anchor="middle" font-weight="normal" font-style="normal" fill="#231f20" font-family='"Liberation Sans", sans-serif' >Calculation</text>
<line x1="238" y1="233.8" x2="241.5" y2="233.8" stroke="#333" stroke-width="1"/>
<text x="237.8" y="239.70000000000002" font-size="16.5" text-anchor="end" font-weight="normal" font-style="normal" fill="#231f20" font-family='"Liberation Sans", sans-serif' >0.5</text>
<line x1="238" y1="274.3" x2="241.5" y2="274.3" stroke="#333" stroke-width="1"/>
<text x="237.8" y="280.2" font-size="16.5" text-anchor="end" font-weight="normal" font-style="normal" fill="#231f20" font-family='"Liberation Sans", sans-serif' >0</text>
<line x1="238" y1="312.8" x2="241.5" y2="312.8" stroke="#333" stroke-width="1"/>
<text x="237.8" y="318.7" font-size="16.5" text-anchor="end" font-weight="normal" font-style="normal" fill="#231f20" font-family='"Liberation Sans", sans-serif' >-0.5</text>
<line x1="255.6" y1="332.0" x2="255.6" y2="335.0" stroke="#333" stroke-width="1"/>
<text x="253.0" y="351.2" font-size="17.5" text-anchor="middle" font-weight="normal" font-style="normal" fill="#231f20" font-family='"Liberation Sans", sans-serif' >-1</text>
<line x1="326.6" y1="332.0" x2="326.6" y2="335.0" stroke="#333" stroke-width="1"/>
<text x="326.6" y="351.2" font-size="17.5" text-anchor="middle" font-weight="normal" font-style="normal" fill="#231f20" font-family='"Liberation Sans", sans-serif' >0</text>
<line x1="397.6" y1="332.0" x2="397.6" y2="335.0" stroke="#333" stroke-width="1"/>
<text x="397.6" y="351.2" font-size="17.5" text-anchor="middle" font-weight="normal" font-style="normal" fill="#231f20" font-family='"Liberation Sans", sans-serif' >1</text>
<text x="308.3" y="366.40000000000003" font-size="18" fill="#231f20" font-family='"Liberation Sans", sans-serif'>k<tspan font-size="13.0" dy="4.0">x</tspan><tspan dy="-4.0"> (Å</tspan><tspan font-size="11.2" dy="-6.5">-1</tspan><tspan dy="6.5">)</tspan></text>
<text transform="translate(220.5,298.8) rotate(-90)" font-size="18" fill="#231f20" font-family='"Liberation Sans", sans-serif'>k<tspan font-size="13.0" dy="4.0">y</tspan><tspan dy="-4.0"> (Å</tspan><tspan font-size="11.2" dy="-6.5">-1</tspan><tspan dy="6.5">)</tspan></text>
<text x="326.4" y="247" font-size="16.5" text-anchor="middle" font-weight="normal" font-style="normal" fill="#fff" font-family='"Liberation Sans", sans-serif' >Y</text><rect x="320.1" y="231.6" width="12.5" height="2" fill="#fff"/>
<text x="386" y="247" font-size="16.5" text-anchor="middle" font-weight="normal" font-style="normal" fill="#fff" font-family='"Liberation Sans", sans-serif' >M</text><rect x="379.5" y="231.6" width="13" height="2" fill="#fff"/>
<text x="326.5" y="283" font-size="16.5" text-anchor="middle" font-weight="normal" font-style="normal" fill="#fff" font-family='"Liberation Sans", sans-serif' >Γ</text><rect x="319.8" y="267.6" width="13.5" height="2" fill="#fff"/>
<text x="389" y="283" font-size="16.5" text-anchor="middle" font-weight="normal" font-style="normal" fill="#fff" font-family='"Liberation Sans", sans-serif' >X</text><rect x="382.8" y="267.6" width="12.5" height="2" fill="#fff"/>
<clipPath id="cd"><rect x="456.5" y="40.3" width="187.5" height="270.5"/></clipPath>
<g clip-path="url(#cd)">
<rect x="456.5" y="40.3" width="187.5" height="270.5" fill="#dda165"/>
<g filter="url(#b2)">
<path d="M584.0,262.0 C584.5,259.3 585.9,250.7 587.0,246.0 C588.1,241.3 589.2,236.8 590.4,234.0 C591.6,231.2 592.9,229.0 594.2,229.0 C595.5,229.0 596.8,230.3 598.0,234.0 C599.2,237.7 600.5,244.7 601.5,251.0 C602.5,257.3 603.2,265.5 604.0,272.0 C604.8,278.5 605.8,283.5 606.5,290.0 C607.2,296.5 612.2,307.5 608.0,311.0 C603.8,314.5 585.7,313.7 581.0,311.0 C576.3,308.3 579.8,301.0 580.0,295.0 C580.2,289.0 581.7,278.3 582.0,275.0 Z" fill="#a68e7e"/>
<path d="M566.0,260.0 C566.6,256.7 568.7,244.0 569.8,240.0 C570.9,236.0 571.6,236.0 572.6,236.0 C573.6,236.0 574.4,237.3 575.5,240.0 C576.6,242.7 578.1,248.0 579.0,252.0 C579.9,256.0 581.2,258.5 581.0,264.0 C580.8,269.5 579.0,277.2 578.0,285.0 C577.0,292.8 578.5,306.7 575.0,311.0 C571.5,315.3 559.5,315.3 557.0,311.0 C554.5,306.7 559.5,289.3 560.0,285.0 Z" fill="#c29c7c"/>
<ellipse cx="507" cy="299" rx="6" ry="5" fill="#9c8c8c"/>
<ellipse cx="546" cy="292" rx="3" ry="4" fill="#9c8c8c"/>
<ellipse cx="570" cy="283" rx="3" ry="5" fill="#9c8c8c"/>
<ellipse cx="641" cy="270" rx="3" ry="20" fill="#9c8c8c"/>
<ellipse cx="459" cy="270" rx="3" ry="30" fill="#9c8c8c"/>
<ellipse cx="489" cy="152" rx="3" ry="6" fill="#9c8c8c"/>
<ellipse cx="517" cy="170" rx="4" ry="3" fill="#9c8c8c"/>
<ellipse cx="526" cy="160" rx="3" ry="4" fill="#9c8c8c"/>
<ellipse cx="492" cy="187" rx="3" ry="4" fill="#9c8c8c"/>
<ellipse cx="540" cy="160" rx="3" ry="3" fill="#9c8c8c"/>
<ellipse cx="632" cy="245" rx="3" ry="4" fill="#9c8c8c"/>
<ellipse cx="640" cy="120" rx="3" ry="6" fill="#9c8c8c"/>
<ellipse cx="518" cy="205" rx="3" ry="3" fill="#9c8c8c"/>
<ellipse cx="497" cy="232" rx="3" ry="3" fill="#9c8c8c"/>
<ellipse cx="510" cy="240" rx="3" ry="3" fill="#9c8c8c"/>
<ellipse cx="470" cy="153" rx="3" ry="5" fill="#9c8c8c"/>
<ellipse cx="503" cy="200" rx="2" ry="3" fill="#9c8c8c"/>
</g>
<g filter="url(#b2)">
<path d="M471.0,88.0 C471.5,87.3 472.8,84.8 474.0,84.0 C475.2,83.2 475.3,83.7 478.0,83.0 C480.7,82.3 486.3,80.3 490.0,80.0 C493.7,79.7 496.7,81.0 500.0,81.0 C503.3,81.0 506.7,80.2 510.0,80.0 C513.3,79.8 516.7,79.8 520.0,80.0 C523.3,80.2 526.7,81.2 530.0,81.0 C533.3,80.8 537.0,79.8 540.0,79.0 C543.0,78.2 545.8,75.8 548.0,76.0 C550.2,76.2 551.7,77.3 553.0,80.0 C554.3,82.7 556.0,88.0 556.0,92.0 C556.0,96.0 554.8,101.0 553.0,104.0 C551.2,107.0 548.2,108.5 545.0,110.0 C541.8,111.5 537.8,111.7 534.0,113.0 C530.2,114.3 526.0,117.3 522.0,118.0 C518.0,118.7 513.8,118.0 510.0,117.0 C506.2,116.0 502.7,114.2 499.0,112.0 C495.3,109.8 491.0,106.8 488.0,104.0 C485.0,101.2 483.8,97.7 481.0,95.0 C478.2,92.3 472.7,89.2 471.0,88.0 Z" fill="#3a63a7"/>
<path d="M456.0,56.0 C457.0,57.0 460.0,59.0 462.0,62.0 C464.0,65.0 466.5,69.7 468.0,74.0 C469.5,78.3 471.2,83.7 471.0,88.0 C470.8,92.3 469.5,97.7 467.0,100.0 C464.5,102.3 457.8,109.3 456.0,102.0 C454.2,94.7 456.0,63.7 456.0,56.0 Z" fill="#4169aa"/>
<path d="M584.0,62.0 C585.0,61.3 587.8,58.0 590.0,58.0 C592.2,58.0 595.0,59.7 597.0,62.0 C599.0,64.3 600.8,68.5 602.0,72.0 C603.2,75.5 604.7,80.5 604.0,83.0 C603.3,85.5 600.3,87.2 598.0,87.0 C595.7,86.8 592.3,84.5 590.0,82.0 C587.7,79.5 585.0,75.3 584.0,72.0 C583.0,68.7 584.0,63.7 584.0,62.0 Z" fill="#4169aa"/>
<path d="M618.0,82.0 C619.7,80.7 624.3,75.3 628.0,74.0 C631.7,72.7 637.0,73.3 640.0,74.0 C643.0,74.7 645.0,71.3 646.0,78.0 C647.0,84.7 647.7,108.0 646.0,114.0 C644.3,120.0 639.3,115.0 636.0,114.0 C632.7,113.0 628.8,111.0 626.0,108.0 C623.2,105.0 620.3,100.3 619.0,96.0 C617.7,91.7 618.2,84.3 618.0,82.0 Z" fill="#4169aa"/>
<path d="M522.0,58.0 C523.7,57.7 528.8,56.0 532.0,56.0 C535.2,56.0 539.3,56.7 541.0,58.0 C542.7,59.3 542.8,62.3 542.0,64.0 C541.2,65.7 538.7,67.3 536.0,68.0 C533.3,68.7 528.5,68.7 526.0,68.0 C523.5,67.3 521.7,65.7 521.0,64.0 C520.3,62.3 521.8,59.0 522.0,58.0 Z" fill="#6a80ac"/>
<path d="M497.0,62.0 C498.5,61.7 503.3,59.8 506.0,60.0 C508.7,60.2 512.0,61.5 513.0,63.0 C514.0,64.5 513.5,67.8 512.0,69.0 C510.5,70.2 506.5,70.2 504.0,70.0 C501.5,69.8 498.2,69.3 497.0,68.0 C495.8,66.7 497.0,63.0 497.0,62.0 Z" fill="#7084aa"/>
<path d="M627.0,48.0 C628.5,47.8 633.2,46.7 636.0,47.0 C638.8,47.3 642.7,47.3 644.0,50.0 C645.3,52.7 645.3,60.7 644.0,63.0 C642.7,65.3 638.7,64.8 636.0,64.0 C633.3,63.2 629.5,60.7 628.0,58.0 C626.5,55.3 627.2,49.7 627.0,48.0 Z" fill="#5b7ab0"/>
<ellipse cx="562" cy="47" rx="4" ry="6" fill="#8d92ad"/>
<ellipse cx="583" cy="52" rx="5" ry="6" fill="#8f95ad"/>
<ellipse cx="458" cy="70" rx="3" ry="10" fill="#9a9ab0"/>
</g>
<g filter="url(#b2)" fill="none" stroke="#f0c488" stroke-width="6" opacity="0.6">
<path d="M480.0,66.8 C481.3,65.8 485.5,62.5 488.0,61.0 C490.5,59.5 493.0,59.2 495.0,57.5 C497.0,55.8 498.2,52.9 500.0,51.0 C501.8,49.1 504.0,46.0 506.0,46.0 C508.0,46.0 510.1,49.4 512.0,51.0 C513.9,52.6 515.6,55.4 517.4,55.6 C519.2,55.8 521.1,52.9 523.0,52.0 C524.9,51.1 526.8,50.3 528.6,50.0 C530.4,49.7 532.1,49.7 534.0,50.0 C535.9,50.3 537.8,50.2 540.0,52.0 C542.2,53.8 545.6,57.0 547.4,61.0 C549.2,65.0 549.7,70.3 551.0,76.0 C552.3,81.7 553.8,89.3 555.0,95.0 C556.2,100.7 557.5,107.5 558.0,110.0"/>
<path d="M480.0,70.0 C481.7,69.3 487.0,67.3 490.0,66.0 C493.0,64.7 495.3,64.3 498.0,62.0 C500.7,59.7 503.5,52.7 506.0,52.0 C508.5,51.3 510.8,56.5 513.0,58.0 C515.2,59.5 516.5,61.3 519.0,61.0 C521.5,60.7 524.5,56.8 528.0,56.0 C531.5,55.2 537.0,54.8 540.0,56.0 C543.0,57.2 545.0,61.8 546.0,63.0"/>
<path d="M476.0,76.0 C477.3,75.6 481.5,74.1 484.0,73.5 C486.5,72.9 488.5,72.6 491.0,72.5 C493.5,72.4 496.5,72.7 499.0,73.0 C501.5,73.3 503.5,74.5 506.0,74.3 C508.5,74.1 511.5,72.6 514.0,72.0 C516.5,71.4 518.5,70.8 521.0,70.6 C523.5,70.4 526.5,70.7 529.0,71.0 C531.5,71.3 533.8,72.5 536.0,72.5 C538.2,72.5 540.1,71.6 542.0,71.0 C543.9,70.4 546.1,70.5 547.4,68.7 C548.7,66.9 549.2,63.5 550.0,60.0 C550.8,56.5 551.7,50.0 552.0,48.0"/>
<path d="M472.5,40.0 C472.1,43.3 471.1,52.5 470.0,60.0 C468.9,67.5 467.3,76.7 466.0,85.0 C464.7,93.3 463.1,102.7 462.0,110.0 C460.9,117.3 459.8,125.5 459.4,128.6"/>
<path d="M486.0,40.0 C485.2,43.7 482.7,54.0 481.0,62.0 C479.3,70.0 477.7,79.2 476.0,88.0 C474.3,96.8 472.2,108.0 471.0,115.0 C469.8,122.0 469.1,127.5 468.7,130.0"/>
<path d="M458.0,58.0 C459.3,60.8 463.3,69.3 466.0,75.0 C468.7,80.7 471.3,86.5 474.0,92.0 C476.7,97.5 479.3,102.5 482.0,108.0 C484.7,113.5 488.7,122.2 490.0,125.0"/>
<path d="M462.0,104.0 C463.8,104.0 468.8,103.0 472.5,104.0 C476.2,105.0 480.2,108.1 484.0,110.0 C487.8,111.9 490.7,114.3 495.0,115.5 C499.3,116.7 505.0,117.0 510.0,117.0 C515.0,117.0 520.8,116.5 525.0,115.5 C529.2,114.5 531.9,112.6 535.0,111.0 C538.1,109.4 540.3,108.0 543.6,106.0 C546.9,104.0 553.1,99.9 555.0,98.7"/>
<path d="M551.0,110.0 C552.5,111.3 556.8,115.5 560.0,118.0 C563.2,120.5 566.7,123.2 570.0,125.0 C573.3,126.8 576.3,127.8 580.0,129.0 C583.7,130.2 588.0,131.6 592.0,132.4 C596.0,133.2 602.0,133.7 604.0,134.0"/>
<path d="M629.8,40.0 C628.8,43.7 626.1,54.0 624.0,62.0 C621.9,70.0 619.2,80.0 617.0,88.0 C614.8,96.0 612.8,103.3 611.0,110.0 C609.2,116.7 607.2,123.0 606.0,128.0 C604.8,133.0 604.0,138.0 603.6,140.0"/>
<path d="M566.0,40.0 C566.8,41.7 569.2,47.7 571.0,50.0 C572.8,52.3 574.1,52.5 577.0,53.7 C579.9,55.0 585.4,56.0 588.6,57.5 C591.8,59.0 594.1,60.5 596.0,63.0 C597.9,65.5 598.7,68.7 600.0,72.5 C601.3,76.3 602.8,81.6 604.0,86.0 C605.2,90.4 606.0,94.4 607.0,98.7 C608.0,103.0 609.5,109.8 610.0,112.0"/>
<path d="M614.8,83.7 C616.0,83.1 619.5,81.3 622.0,80.0 C624.5,78.7 627.3,77.0 629.8,76.0 C632.3,75.0 634.5,74.6 637.0,74.0 C639.5,73.4 643.5,72.8 644.8,72.5"/>
<path d="M600.0,40.0 C601.2,41.7 604.5,47.1 607.0,50.0 C609.5,52.9 612.3,56.5 614.8,57.5 C617.3,58.5 619.5,56.6 622.0,56.0 C624.5,55.4 627.3,53.7 629.8,53.7 C632.3,53.7 634.5,54.8 637.0,56.0 C639.5,57.2 643.5,60.2 644.8,61.0"/>
<path d="M558.0,40.0 C558.7,42.0 560.7,48.7 562.0,52.0 C563.3,55.3 564.3,57.0 566.0,60.0 C567.7,63.0 570.0,65.8 572.0,70.0 C574.0,74.2 576.3,80.0 578.0,85.0 C579.7,90.0 581.3,97.5 582.0,100.0"/>
</g>
<g filter="url(#b1)" fill="none" stroke="#fbe2b0" stroke-width="2.4" opacity="0.95">
<path d="M480.0,66.8 C481.3,65.8 485.5,62.5 488.0,61.0 C490.5,59.5 493.0,59.2 495.0,57.5 C497.0,55.8 498.2,52.9 500.0,51.0 C501.8,49.1 504.0,46.0 506.0,46.0 C508.0,46.0 510.1,49.4 512.0,51.0 C513.9,52.6 515.6,55.4 517.4,55.6 C519.2,55.8 521.1,52.9 523.0,52.0 C524.9,51.1 526.8,50.3 528.6,50.0 C530.4,49.7 532.1,49.7 534.0,50.0 C535.9,50.3 537.8,50.2 540.0,52.0 C542.2,53.8 545.6,57.0 547.4,61.0 C549.2,65.0 549.7,70.3 551.0,76.0 C552.3,81.7 553.8,89.3 555.0,95.0 C556.2,100.7 557.5,107.5 558.0,110.0"/>
<path d="M480.0,70.0 C481.7,69.3 487.0,67.3 490.0,66.0 C493.0,64.7 495.3,64.3 498.0,62.0 C500.7,59.7 503.5,52.7 506.0,52.0 C508.5,51.3 510.8,56.5 513.0,58.0 C515.2,59.5 516.5,61.3 519.0,61.0 C521.5,60.7 524.5,56.8 528.0,56.0 C531.5,55.2 537.0,54.8 540.0,56.0 C543.0,57.2 545.0,61.8 546.0,63.0"/>
<path d="M476.0,76.0 C477.3,75.6 481.5,74.1 484.0,73.5 C486.5,72.9 488.5,72.6 491.0,72.5 C493.5,72.4 496.5,72.7 499.0,73.0 C501.5,73.3 503.5,74.5 506.0,74.3 C508.5,74.1 511.5,72.6 514.0,72.0 C516.5,71.4 518.5,70.8 521.0,70.6 C523.5,70.4 526.5,70.7 529.0,71.0 C531.5,71.3 533.8,72.5 536.0,72.5 C538.2,72.5 540.1,71.6 542.0,71.0 C543.9,70.4 546.1,70.5 547.4,68.7 C548.7,66.9 549.2,63.5 550.0,60.0 C550.8,56.5 551.7,50.0 552.0,48.0"/>
<path d="M472.5,40.0 C472.1,43.3 471.1,52.5 470.0,60.0 C468.9,67.5 467.3,76.7 466.0,85.0 C464.7,93.3 463.1,102.7 462.0,110.0 C460.9,117.3 459.8,125.5 459.4,128.6"/>
<path d="M486.0,40.0 C485.2,43.7 482.7,54.0 481.0,62.0 C479.3,70.0 477.7,79.2 476.0,88.0 C474.3,96.8 472.2,108.0 471.0,115.0 C469.8,122.0 469.1,127.5 468.7,130.0"/>
<path d="M458.0,58.0 C459.3,60.8 463.3,69.3 466.0,75.0 C468.7,80.7 471.3,86.5 474.0,92.0 C476.7,97.5 479.3,102.5 482.0,108.0 C484.7,113.5 488.7,122.2 490.0,125.0"/>
<path d="M462.0,104.0 C463.8,104.0 468.8,103.0 472.5,104.0 C476.2,105.0 480.2,108.1 484.0,110.0 C487.8,111.9 490.7,114.3 495.0,115.5 C499.3,116.7 505.0,117.0 510.0,117.0 C515.0,117.0 520.8,116.5 525.0,115.5 C529.2,114.5 531.9,112.6 535.0,111.0 C538.1,109.4 540.3,108.0 543.6,106.0 C546.9,104.0 553.1,99.9 555.0,98.7"/>
<path d="M551.0,110.0 C552.5,111.3 556.8,115.5 560.0,118.0 C563.2,120.5 566.7,123.2 570.0,125.0 C573.3,126.8 576.3,127.8 580.0,129.0 C583.7,130.2 588.0,131.6 592.0,132.4 C596.0,133.2 602.0,133.7 604.0,134.0"/>
<path d="M629.8,40.0 C628.8,43.7 626.1,54.0 624.0,62.0 C621.9,70.0 619.2,80.0 617.0,88.0 C614.8,96.0 612.8,103.3 611.0,110.0 C609.2,116.7 607.2,123.0 606.0,128.0 C604.8,133.0 604.0,138.0 603.6,140.0"/>
<path d="M566.0,40.0 C566.8,41.7 569.2,47.7 571.0,50.0 C572.8,52.3 574.1,52.5 577.0,53.7 C579.9,55.0 585.4,56.0 588.6,57.5 C591.8,59.0 594.1,60.5 596.0,63.0 C597.9,65.5 598.7,68.7 600.0,72.5 C601.3,76.3 602.8,81.6 604.0,86.0 C605.2,90.4 606.0,94.4 607.0,98.7 C608.0,103.0 609.5,109.8 610.0,112.0"/>
<path d="M614.8,83.7 C616.0,83.1 619.5,81.3 622.0,80.0 C624.5,78.7 627.3,77.0 629.8,76.0 C632.3,75.0 634.5,74.6 637.0,74.0 C639.5,73.4 643.5,72.8 644.8,72.5"/>
<path d="M600.0,40.0 C601.2,41.7 604.5,47.1 607.0,50.0 C609.5,52.9 612.3,56.5 614.8,57.5 C617.3,58.5 619.5,56.6 622.0,56.0 C624.5,55.4 627.3,53.7 629.8,53.7 C632.3,53.7 634.5,54.8 637.0,56.0 C639.5,57.2 643.5,60.2 644.8,61.0"/>
<path d="M558.0,40.0 C558.7,42.0 560.7,48.7 562.0,52.0 C563.3,55.3 564.3,57.0 566.0,60.0 C567.7,63.0 570.0,65.8 572.0,70.0 C574.0,74.2 576.3,80.0 578.0,85.0 C579.7,90.0 581.3,97.5 582.0,100.0"/>
</g>
<g filter="url(#b1)" fill="none" stroke="#f0c78e" stroke-width="1.8" opacity="0.55">
<path d="M460.0,140.0 C461.7,145.0 466.7,160.0 470.0,170.0 C473.3,180.0 476.7,190.0 480.0,200.0 C483.3,210.0 486.7,219.7 490.0,230.0 C493.3,240.3 498.3,256.7 500.0,262.0"/>
<path d="M500.0,120.0 C501.7,125.0 506.7,140.0 510.0,150.0 C513.3,160.0 516.7,169.2 520.0,180.0 C523.3,190.8 526.7,203.3 530.0,215.0 C533.3,226.7 538.3,244.2 540.0,250.0"/>
<path d="M590.0,150.0 C591.2,155.0 594.8,169.2 597.0,180.0 C599.2,190.8 601.2,203.3 603.0,215.0 C604.8,226.7 607.2,244.2 608.0,250.0"/>
<path d="M620.0,140.0 C621.3,145.0 625.3,159.2 628.0,170.0 C630.7,180.8 633.3,193.3 636.0,205.0 C638.7,216.7 642.7,234.2 644.0,240.0"/>
<path d="M535.0,120.0 C536.7,125.0 540.8,138.3 545.0,150.0 C549.2,161.7 555.0,176.7 560.0,190.0 C565.0,203.3 572.5,223.3 575.0,230.0"/>
<path d="M470.0,230.0 C473.3,231.7 483.3,236.7 490.0,240.0 C496.7,243.3 503.3,246.3 510.0,250.0 C516.7,253.7 523.3,258.3 530.0,262.0 C536.7,265.7 546.7,270.3 550.0,272.0"/>
<path d="M520.0,160.0 C523.3,162.5 533.3,170.8 540.0,175.0 C546.7,179.2 553.3,181.7 560.0,185.0 C566.7,188.3 573.3,192.8 580.0,195.0 C586.7,197.2 596.7,197.5 600.0,198.0"/>
<path d="M460.0,260.0 C461.7,262.5 465.8,269.2 470.0,275.0 C474.2,280.8 480.8,289.2 485.0,295.0 C489.2,300.8 493.3,307.5 495.0,310.0"/>
<path d="M585.0,110.0 C587.5,111.3 595.0,114.7 600.0,118.0 C605.0,121.3 610.0,124.7 615.0,130.0 C620.0,135.3 625.2,145.0 630.0,150.0 C634.8,155.0 641.7,158.3 644.0,160.0"/>
</g>
<g filter="url(#b1)" fill="none" stroke="#f6d8a6" stroke-width="2.4" opacity="0.6">
<path d="M458.0,128.0 C459.4,128.1 464.4,128.1 466.5,128.5 C468.6,128.9 468.7,128.3 470.5,130.5 C472.3,132.7 474.8,137.4 477.1,141.5 C479.4,145.6 482.0,150.1 484.5,154.8 C487.0,159.5 489.9,165.4 492.1,169.8 C494.3,174.2 496.0,178.4 497.7,181.1 C499.4,183.8 500.8,185.5 502.4,185.7 C504.0,185.8 505.4,184.3 507.1,182.0 C508.8,179.7 510.8,175.6 512.7,171.7 C514.6,167.8 516.4,162.2 518.3,158.6 C520.2,155.0 522.2,151.9 523.9,150.2 C525.6,148.5 527.1,148.0 528.5,148.3 C529.9,148.6 531.2,149.7 532.3,152.0 C533.4,154.3 534.1,158.4 535.2,162.3 C536.3,166.2 537.9,172.9 538.9,175.5 C539.9,178.1 540.5,178.4 541.5,178.0 C542.5,177.6 543.6,174.6 545.1,173.0 C546.6,171.4 548.9,169.7 550.5,168.3 C552.1,166.9 552.7,166.4 554.5,164.5 C556.3,162.6 558.7,158.7 561.5,157.0 C564.3,155.3 568.7,153.8 571.5,154.5 C574.3,155.2 576.5,162.2 578.5,161.5 C580.5,160.8 581.8,152.3 583.5,150.5 C585.2,148.7 586.5,152.2 588.5,150.5 C590.5,148.8 593.5,141.3 595.5,140.5 C597.5,139.7 599.0,143.3 600.5,145.5 C602.0,147.7 602.8,151.2 604.5,153.5 C606.2,155.8 608.5,157.5 610.5,159.5 C612.5,161.5 614.7,162.8 616.5,165.5 C618.3,168.2 619.8,171.5 621.5,175.5 C623.2,179.5 625.0,186.5 626.5,189.5 C628.0,192.5 628.8,192.3 630.5,193.5 C632.2,194.7 634.5,194.8 636.5,196.5 C638.5,198.2 640.9,201.3 642.5,203.5 C644.1,205.7 645.4,208.5 646.0,209.5"/>
<path d="M455.5,116.5 C456.9,116.6 461.9,116.6 464.0,117.0 C466.1,117.4 466.2,116.8 468.0,119.0 C469.8,121.2 472.3,126.0 474.6,130.0 C476.9,134.1 479.5,138.6 482.0,143.3 C484.5,148.0 487.4,153.9 489.6,158.3 C491.8,162.7 493.5,166.9 495.2,169.6 C496.9,172.2 498.3,174.0 499.9,174.2 C501.5,174.3 502.9,172.8 504.6,170.5 C506.3,168.2 508.3,164.1 510.2,160.2 C512.1,156.3 513.9,150.7 515.8,147.1 C517.7,143.5 519.7,140.4 521.4,138.7 C523.1,137.0 524.6,136.5 526.0,136.8 C527.4,137.1 528.7,138.2 529.8,140.5 C530.9,142.8 531.6,146.9 532.7,150.8 C533.8,154.7 535.4,161.4 536.4,164.0 C537.4,166.6 538.0,166.9 539.0,166.5 C540.0,166.1 541.1,163.1 542.6,161.5 C544.1,159.9 546.4,158.2 548.0,156.8 C549.6,155.4 550.2,154.9 552.0,153.0 C553.8,151.1 556.2,147.2 559.0,145.5 C561.8,143.8 566.2,142.2 569.0,143.0 C571.8,143.8 574.0,150.7 576.0,150.0 C578.0,149.3 579.3,140.8 581.0,139.0 C582.7,137.2 584.0,140.7 586.0,139.0 C588.0,137.3 591.0,129.8 593.0,129.0 C595.0,128.2 596.5,131.8 598.0,134.0 C599.5,136.2 600.3,139.7 602.0,142.0 C603.7,144.3 606.0,146.0 608.0,148.0 C610.0,150.0 612.2,151.3 614.0,154.0 C615.8,156.7 617.3,160.0 619.0,164.0 C620.7,168.0 622.5,175.0 624.0,178.0 C625.5,181.0 626.3,180.8 628.0,182.0 C629.7,183.2 632.0,183.3 634.0,185.0 C636.0,186.7 638.4,189.8 640.0,192.0 C641.6,194.2 642.9,197.0 643.5,198.0"/>
<path d="M459.5,133.5 C460.9,133.6 465.9,133.6 468.0,134.0 C470.1,134.4 470.2,133.8 472.0,136.0 C473.8,138.2 476.3,142.9 478.6,147.0 C480.9,151.1 483.5,155.6 486.0,160.3 C488.5,165.0 491.4,170.9 493.6,175.3 C495.8,179.7 497.5,183.9 499.2,186.6 C500.9,189.2 502.3,191.0 503.9,191.2 C505.5,191.3 506.9,189.8 508.6,187.5 C510.3,185.2 512.3,181.1 514.2,177.2 C516.1,173.3 517.9,167.7 519.8,164.1 C521.7,160.5 523.7,157.4 525.4,155.7 C527.1,154.0 528.6,153.5 530.0,153.8 C531.4,154.1 532.7,155.2 533.8,157.5 C534.9,159.8 535.6,163.9 536.7,167.8 C537.8,171.7 539.4,178.4 540.4,181.0 C541.4,183.6 542.0,183.9 543.0,183.5 C544.0,183.1 545.1,180.1 546.6,178.5 C548.1,176.9 550.4,175.2 552.0,173.8 C553.6,172.4 554.2,171.9 556.0,170.0 C557.8,168.1 560.2,164.2 563.0,162.5 C565.8,160.8 570.2,159.2 573.0,160.0 C575.8,160.8 578.0,167.7 580.0,167.0 C582.0,166.3 583.3,157.8 585.0,156.0 C586.7,154.2 588.0,157.7 590.0,156.0 C592.0,154.3 595.0,146.8 597.0,146.0 C599.0,145.2 600.5,148.8 602.0,151.0 C603.5,153.2 604.3,156.7 606.0,159.0 C607.7,161.3 610.0,163.0 612.0,165.0 C614.0,167.0 616.2,168.3 618.0,171.0 C619.8,173.7 621.3,177.0 623.0,181.0 C624.7,185.0 626.5,192.0 628.0,195.0 C629.5,198.0 630.3,197.8 632.0,199.0 C633.7,200.2 636.0,200.3 638.0,202.0 C640.0,203.7 642.4,206.8 644.0,209.0 C645.6,211.2 646.9,214.0 647.5,215.0"/>
<path d="M458.0,172.6 C459.0,173.7 462.1,176.2 464.0,179.2 C465.9,182.2 467.9,187.3 469.6,190.5 C471.4,193.7 471.7,195.2 474.5,198.5 C477.3,201.8 482.5,207.6 486.5,210.5 C490.5,213.4 495.3,217.2 498.5,216.0 C501.7,214.8 503.5,204.1 505.5,203.0 C507.5,201.9 509.0,207.8 510.5,209.5 C512.0,211.2 512.8,211.8 514.5,213.5 C516.2,215.2 518.2,219.7 520.5,219.5 C522.8,219.3 525.5,216.0 528.5,212.5 C531.5,209.0 536.0,200.2 538.5,198.5 C541.0,196.8 541.5,201.6 543.2,202.0 C544.9,202.4 547.4,202.5 548.9,201.1 C550.4,199.7 551.4,196.9 552.5,193.5 C553.6,190.1 554.5,185.2 555.5,180.5 C556.5,175.8 557.5,171.3 558.2,165.5 C559.0,159.7 559.4,152.5 560.0,145.5 C560.6,138.5 561.2,129.8 562.0,123.5 C562.8,117.2 563.7,111.3 564.5,107.5 C565.3,103.7 565.8,101.0 566.8,100.5 C567.8,100.0 569.0,101.2 570.5,104.5 C572.0,107.8 574.0,115.7 575.5,120.5 C577.0,125.3 578.3,130.2 579.5,133.5 C580.7,136.8 581.3,140.5 582.5,140.5 C583.7,140.5 585.2,135.7 586.5,133.5 C587.8,131.3 589.0,128.7 590.5,127.5 C592.0,126.3 593.7,126.5 595.5,126.5 C597.3,126.5 599.5,126.5 601.5,127.5 C603.5,128.5 605.3,129.5 607.5,132.5 C609.7,135.5 612.0,141.3 614.5,145.5 C617.0,149.7 620.2,153.8 622.5,157.5 C624.8,161.2 626.7,164.5 628.5,167.5 C630.3,170.5 631.8,175.5 633.5,175.5 C635.2,175.5 637.0,170.5 638.5,167.5 C640.0,164.5 641.2,160.7 642.5,157.5 C643.8,154.3 645.4,150.0 646.0,148.5"/>
<path d="M455.5,161.1 C456.5,162.2 459.6,164.7 461.5,167.7 C463.4,170.7 465.4,175.8 467.1,179.0 C468.9,182.2 469.2,183.7 472.0,187.0 C474.8,190.3 480.0,196.1 484.0,199.0 C488.0,201.9 492.8,205.8 496.0,204.5 C499.2,203.2 501.0,192.6 503.0,191.5 C505.0,190.4 506.5,196.2 508.0,198.0 C509.5,199.8 510.3,200.3 512.0,202.0 C513.7,203.7 515.7,208.2 518.0,208.0 C520.3,207.8 523.0,204.5 526.0,201.0 C529.0,197.5 533.5,188.8 536.0,187.0 C538.5,185.2 539.0,190.1 540.7,190.5 C542.4,190.9 544.9,191.0 546.4,189.6 C547.9,188.2 548.9,185.4 550.0,182.0 C551.1,178.6 552.0,173.7 553.0,169.0 C554.0,164.3 555.0,159.8 555.7,154.0 C556.5,148.2 556.9,141.0 557.5,134.0 C558.1,127.0 558.8,118.3 559.5,112.0 C560.2,105.7 561.2,99.8 562.0,96.0 C562.8,92.2 563.3,89.5 564.3,89.0 C565.3,88.5 566.5,89.7 568.0,93.0 C569.5,96.3 571.5,104.2 573.0,109.0 C574.5,113.8 575.8,118.7 577.0,122.0 C578.2,125.3 578.8,129.0 580.0,129.0 C581.2,129.0 582.7,124.2 584.0,122.0 C585.3,119.8 586.5,117.2 588.0,116.0 C589.5,114.8 591.2,115.0 593.0,115.0 C594.8,115.0 597.0,115.0 599.0,116.0 C601.0,117.0 602.8,118.0 605.0,121.0 C607.2,124.0 609.5,129.8 612.0,134.0 C614.5,138.2 617.7,142.3 620.0,146.0 C622.3,149.7 624.2,153.0 626.0,156.0 C627.8,159.0 629.3,164.0 631.0,164.0 C632.7,164.0 634.5,159.0 636.0,156.0 C637.5,153.0 638.8,149.2 640.0,146.0 C641.2,142.8 642.9,138.5 643.5,137.0"/>
<path d="M459.5,178.1 C460.5,179.2 463.6,181.7 465.5,184.7 C467.4,187.7 469.4,192.8 471.1,196.0 C472.9,199.2 473.2,200.7 476.0,204.0 C478.8,207.3 484.0,213.1 488.0,216.0 C492.0,218.9 496.8,222.8 500.0,221.5 C503.2,220.2 505.0,209.6 507.0,208.5 C509.0,207.4 510.5,213.2 512.0,215.0 C513.5,216.8 514.3,217.3 516.0,219.0 C517.7,220.7 519.7,225.2 522.0,225.0 C524.3,224.8 527.0,221.5 530.0,218.0 C533.0,214.5 537.5,205.8 540.0,204.0 C542.5,202.2 543.0,207.1 544.7,207.5 C546.4,207.9 548.9,208.0 550.4,206.6 C551.9,205.2 552.9,202.4 554.0,199.0 C555.1,195.6 556.0,190.7 557.0,186.0 C558.0,181.3 559.0,176.8 559.7,171.0 C560.5,165.2 560.9,158.0 561.5,151.0 C562.1,144.0 562.8,135.3 563.5,129.0 C564.2,122.7 565.2,116.8 566.0,113.0 C566.8,109.2 567.3,106.5 568.3,106.0 C569.3,105.5 570.5,106.7 572.0,110.0 C573.5,113.3 575.5,121.2 577.0,126.0 C578.5,130.8 579.8,135.7 581.0,139.0 C582.2,142.3 582.8,146.0 584.0,146.0 C585.2,146.0 586.7,141.2 588.0,139.0 C589.3,136.8 590.5,134.2 592.0,133.0 C593.5,131.8 595.2,132.0 597.0,132.0 C598.8,132.0 601.0,132.0 603.0,133.0 C605.0,134.0 606.8,135.0 609.0,138.0 C611.2,141.0 613.5,146.8 616.0,151.0 C618.5,155.2 621.7,159.3 624.0,163.0 C626.3,166.7 628.2,170.0 630.0,173.0 C631.8,176.0 633.3,181.0 635.0,181.0 C636.7,181.0 638.5,176.0 640.0,173.0 C641.5,170.0 642.8,166.2 644.0,163.0 C645.2,159.8 646.9,155.5 647.5,154.0"/>
<path d="M458.0,139.9 C458.7,140.8 460.8,142.4 462.1,145.5 C463.4,148.6 464.6,154.2 465.9,158.6 C467.1,163.0 468.2,168.3 469.6,171.7 C471.0,175.1 472.7,177.6 474.3,179.2 C475.9,180.8 477.3,180.5 479.0,181.1 C480.7,181.7 482.9,181.7 484.6,182.9 C486.3,184.1 487.9,185.6 489.3,188.5 C490.7,191.4 492.0,196.8 493.0,200.5 C494.0,204.2 494.6,207.9 495.5,210.5 C496.4,213.1 498.0,215.1 498.5,216.0"/>
<path d="M455.5,128.4 C456.2,129.3 458.3,130.9 459.6,134.0 C460.9,137.1 462.1,142.7 463.4,147.1 C464.6,151.5 465.7,156.8 467.1,160.2 C468.5,163.6 470.2,166.1 471.8,167.7 C473.4,169.3 474.8,169.0 476.5,169.6 C478.2,170.2 480.4,170.2 482.1,171.4 C483.8,172.6 485.4,174.1 486.8,177.0 C488.2,179.9 489.5,185.3 490.5,189.0 C491.5,192.7 492.1,196.4 493.0,199.0 C493.9,201.6 495.5,203.6 496.0,204.5"/>
<path d="M459.5,145.4 C460.2,146.3 462.3,147.9 463.6,151.0 C464.9,154.1 466.1,159.7 467.4,164.1 C468.6,168.5 469.7,173.8 471.1,177.2 C472.5,180.6 474.2,183.1 475.8,184.7 C477.4,186.3 478.8,186.0 480.5,186.6 C482.2,187.2 484.4,187.2 486.1,188.4 C487.8,189.6 489.4,191.1 490.8,194.0 C492.2,196.9 493.5,202.3 494.5,206.0 C495.5,209.7 496.1,213.4 497.0,216.0 C497.9,218.6 499.5,220.6 500.0,221.5"/>
<path d="M458.0,199.5 C459.4,200.2 464.1,202.0 466.5,203.5 C468.9,205.0 470.2,206.8 472.5,208.5 C474.8,210.2 477.8,212.2 480.5,213.5 C483.2,214.8 485.5,215.8 488.5,216.5 C491.5,217.2 495.5,217.8 498.5,217.5 C501.5,217.2 504.5,213.7 506.5,214.5 C508.5,215.3 509.2,219.8 510.5,222.5 C511.8,225.2 512.8,229.7 514.5,230.5 C516.2,231.3 518.5,227.0 520.5,227.5 C522.5,228.0 524.5,231.8 526.5,233.5 C528.5,235.2 530.8,237.5 532.5,237.5 C534.2,237.5 535.2,235.3 536.5,233.5 C537.8,231.7 538.8,230.3 540.5,226.5 C542.2,222.7 544.7,214.1 547.0,210.5 C549.3,206.9 552.0,205.1 554.5,204.8 C557.0,204.5 559.8,208.5 562.0,208.5 C564.2,208.5 565.8,207.9 567.5,204.8 C569.2,201.7 570.9,194.5 572.3,189.8 C573.7,185.1 574.8,180.1 576.0,176.7 C577.2,173.3 578.4,170.0 579.8,169.2 C581.2,168.4 582.8,171.2 584.5,172.0 C586.2,172.8 588.2,173.7 590.1,173.9 C592.0,174.1 593.8,172.2 595.7,173.0 C597.6,173.8 599.4,176.0 601.3,178.5 C603.2,181.0 604.7,184.9 606.9,188.0 C609.1,191.1 612.4,194.8 614.5,197.3 C616.6,199.8 617.8,201.0 619.5,203.0 C621.2,205.0 622.7,206.8 624.5,209.5 C626.3,212.2 628.3,216.0 630.5,219.5 C632.7,223.0 634.9,227.5 637.5,230.5 C640.1,233.5 644.6,236.3 646.0,237.5"/>
<path d="M455.5,188.0 C456.9,188.7 461.6,190.5 464.0,192.0 C466.4,193.5 467.7,195.3 470.0,197.0 C472.3,198.7 475.3,200.7 478.0,202.0 C480.7,203.3 483.0,204.3 486.0,205.0 C489.0,205.7 493.0,206.3 496.0,206.0 C499.0,205.7 502.0,202.2 504.0,203.0 C506.0,203.8 506.7,208.3 508.0,211.0 C509.3,213.7 510.3,218.2 512.0,219.0 C513.7,219.8 516.0,215.5 518.0,216.0 C520.0,216.5 522.0,220.3 524.0,222.0 C526.0,223.7 528.3,226.0 530.0,226.0 C531.7,226.0 532.7,223.8 534.0,222.0 C535.3,220.2 536.2,218.8 538.0,215.0 C539.8,211.2 542.2,202.6 544.5,199.0 C546.8,195.4 549.5,193.6 552.0,193.3 C554.5,193.0 557.3,197.0 559.5,197.0 C561.7,197.0 563.3,196.4 565.0,193.3 C566.7,190.2 568.4,183.0 569.8,178.3 C571.2,173.6 572.2,168.6 573.5,165.2 C574.8,161.8 575.9,158.5 577.3,157.7 C578.7,156.9 580.3,159.7 582.0,160.5 C583.7,161.3 585.7,162.2 587.6,162.4 C589.5,162.6 591.3,160.7 593.2,161.5 C595.1,162.3 596.9,164.5 598.8,167.0 C600.7,169.5 602.2,173.4 604.4,176.5 C606.6,179.6 609.9,183.3 612.0,185.8 C614.1,188.3 615.3,189.5 617.0,191.5 C618.7,193.5 620.2,195.2 622.0,198.0 C623.8,200.8 625.8,204.5 628.0,208.0 C630.2,211.5 632.4,216.0 635.0,219.0 C637.6,222.0 642.1,224.8 643.5,226.0"/>
<path d="M459.5,205.0 C460.9,205.7 465.6,207.5 468.0,209.0 C470.4,210.5 471.7,212.3 474.0,214.0 C476.3,215.7 479.3,217.7 482.0,219.0 C484.7,220.3 487.0,221.3 490.0,222.0 C493.0,222.7 497.0,223.3 500.0,223.0 C503.0,222.7 506.0,219.2 508.0,220.0 C510.0,220.8 510.7,225.3 512.0,228.0 C513.3,230.7 514.3,235.2 516.0,236.0 C517.7,236.8 520.0,232.5 522.0,233.0 C524.0,233.5 526.0,237.3 528.0,239.0 C530.0,240.7 532.3,243.0 534.0,243.0 C535.7,243.0 536.7,240.8 538.0,239.0 C539.3,237.2 540.2,235.8 542.0,232.0 C543.8,228.2 546.2,219.6 548.5,216.0 C550.8,212.4 553.5,210.6 556.0,210.3 C558.5,210.0 561.3,214.0 563.5,214.0 C565.7,214.0 567.3,213.4 569.0,210.3 C570.7,207.2 572.4,200.0 573.8,195.3 C575.2,190.6 576.2,185.6 577.5,182.2 C578.8,178.8 579.9,175.5 581.3,174.7 C582.7,173.9 584.3,176.7 586.0,177.5 C587.7,178.3 589.7,179.2 591.6,179.4 C593.5,179.6 595.3,177.7 597.2,178.5 C599.1,179.3 600.9,181.5 602.8,184.0 C604.7,186.5 606.2,190.4 608.4,193.5 C610.6,196.6 613.9,200.3 616.0,202.8 C618.1,205.3 619.3,206.5 621.0,208.5 C622.7,210.5 624.2,212.2 626.0,215.0 C627.8,217.8 629.8,221.5 632.0,225.0 C634.2,228.5 636.4,233.0 639.0,236.0 C641.6,239.0 646.1,241.8 647.5,243.0"/>
<path d="M458.0,215.5 C458.8,215.7 461.3,215.5 462.9,216.5 C464.5,217.5 465.9,219.1 467.5,221.5 C469.1,223.9 470.8,227.5 472.5,231.0 C474.2,234.5 475.9,238.8 477.5,242.3 C479.1,245.8 480.6,249.6 482.2,251.9 C483.8,254.2 485.4,255.9 487.0,255.9 C488.6,255.9 490.2,254.2 491.8,251.9 C493.4,249.6 494.9,245.9 496.5,242.3 C498.1,238.7 499.8,230.5 501.5,230.5 C503.2,230.5 505.3,240.2 506.5,242.5 C507.7,244.8 507.2,245.0 508.5,244.5 C509.8,244.0 512.8,238.8 514.5,239.5 C516.2,240.2 517.2,245.3 518.5,248.5 C519.8,251.7 521.2,256.2 522.5,258.5 C523.8,260.8 525.2,262.5 526.5,262.5 C527.8,262.5 528.8,260.0 530.5,258.5 C532.2,257.0 534.2,254.8 536.5,253.5 C538.8,252.2 542.2,252.2 544.5,250.5 C546.8,248.8 548.8,246.8 550.5,243.5 C552.2,240.2 553.0,234.8 554.5,230.5 C556.0,226.2 557.3,220.8 559.5,217.5 C561.7,214.2 564.6,212.4 567.5,210.5 C570.4,208.6 574.2,207.5 577.0,205.8 C579.8,204.1 582.3,201.2 584.5,200.1 C586.7,199.0 588.2,199.2 590.1,199.2 C592.0,199.2 593.8,199.5 595.7,200.1 C597.6,200.7 599.8,201.3 601.3,203.0 C602.8,204.7 603.8,207.4 605.0,210.5 C606.2,213.6 607.5,217.5 608.8,221.7 C610.0,225.9 611.2,232.2 612.5,235.5 C613.8,238.8 614.6,239.3 616.3,241.5 C618.0,243.7 620.5,247.1 622.5,248.9 C624.5,250.7 625.9,251.1 628.5,252.1 C631.1,253.1 635.2,254.1 638.1,255.2 C641.0,256.3 644.7,257.9 646.0,258.5"/>
<path d="M455.5,204.0 C456.3,204.2 458.8,204.0 460.4,205.0 C462.0,206.0 463.4,207.6 465.0,210.0 C466.6,212.4 468.3,216.0 470.0,219.5 C471.7,223.0 473.4,227.3 475.0,230.8 C476.6,234.3 478.1,238.1 479.7,240.4 C481.3,242.7 482.9,244.4 484.5,244.4 C486.1,244.4 487.7,242.7 489.3,240.4 C490.9,238.1 492.4,234.4 494.0,230.8 C495.6,227.2 497.3,219.0 499.0,219.0 C500.7,219.0 502.8,228.7 504.0,231.0 C505.2,233.3 504.7,233.5 506.0,233.0 C507.3,232.5 510.3,227.3 512.0,228.0 C513.7,228.7 514.7,233.8 516.0,237.0 C517.3,240.2 518.7,244.7 520.0,247.0 C521.3,249.3 522.7,251.0 524.0,251.0 C525.3,251.0 526.3,248.5 528.0,247.0 C529.7,245.5 531.7,243.3 534.0,242.0 C536.3,240.7 539.7,240.7 542.0,239.0 C544.3,237.3 546.3,235.3 548.0,232.0 C549.7,228.7 550.5,223.3 552.0,219.0 C553.5,214.7 554.8,209.3 557.0,206.0 C559.2,202.7 562.1,200.9 565.0,199.0 C567.9,197.1 571.7,196.0 574.5,194.3 C577.3,192.6 579.8,189.7 582.0,188.6 C584.2,187.5 585.7,187.7 587.6,187.7 C589.5,187.7 591.3,188.0 593.2,188.6 C595.1,189.2 597.2,189.8 598.8,191.5 C600.3,193.2 601.2,195.9 602.5,199.0 C603.8,202.1 605.0,206.0 606.3,210.2 C607.5,214.4 608.8,220.7 610.0,224.0 C611.2,227.3 612.1,227.8 613.8,230.0 C615.5,232.2 618.0,235.6 620.0,237.4 C622.0,239.2 623.4,239.6 626.0,240.6 C628.6,241.6 632.7,242.6 635.6,243.7 C638.5,244.8 642.2,246.4 643.5,247.0"/>
<path d="M459.5,221.0 C460.3,221.2 462.8,221.0 464.4,222.0 C466.0,223.0 467.4,224.6 469.0,227.0 C470.6,229.4 472.3,233.0 474.0,236.5 C475.7,240.0 477.4,244.3 479.0,247.8 C480.6,251.3 482.1,255.1 483.7,257.4 C485.3,259.7 486.9,261.4 488.5,261.4 C490.1,261.4 491.7,259.7 493.3,257.4 C494.9,255.1 496.4,251.4 498.0,247.8 C499.6,244.2 501.3,236.0 503.0,236.0 C504.7,236.0 506.8,245.7 508.0,248.0 C509.2,250.3 508.7,250.5 510.0,250.0 C511.3,249.5 514.3,244.3 516.0,245.0 C517.7,245.7 518.7,250.8 520.0,254.0 C521.3,257.2 522.7,261.7 524.0,264.0 C525.3,266.3 526.7,268.0 528.0,268.0 C529.3,268.0 530.3,265.5 532.0,264.0 C533.7,262.5 535.7,260.3 538.0,259.0 C540.3,257.7 543.7,257.7 546.0,256.0 C548.3,254.3 550.3,252.3 552.0,249.0 C553.7,245.7 554.5,240.3 556.0,236.0 C557.5,231.7 558.8,226.3 561.0,223.0 C563.2,219.7 566.1,217.9 569.0,216.0 C571.9,214.1 575.7,213.0 578.5,211.3 C581.3,209.6 583.8,206.7 586.0,205.6 C588.2,204.5 589.7,204.7 591.6,204.7 C593.5,204.7 595.3,205.0 597.2,205.6 C599.1,206.2 601.2,206.8 602.8,208.5 C604.3,210.2 605.2,212.9 606.5,216.0 C607.8,219.1 609.0,223.0 610.3,227.2 C611.5,231.4 612.8,237.7 614.0,241.0 C615.2,244.3 616.1,244.8 617.8,247.0 C619.5,249.2 622.0,252.6 624.0,254.4 C626.0,256.2 627.4,256.6 630.0,257.6 C632.6,258.7 636.7,259.6 639.6,260.7 C642.5,261.8 646.2,263.4 647.5,264.0"/>
<path d="M458.0,220.5 C458.6,221.2 460.2,222.5 461.3,224.5 C462.4,226.5 463.5,229.5 464.5,232.5 C465.5,235.5 466.4,239.1 467.5,242.3 C468.6,245.5 469.7,248.7 471.0,251.9 C472.3,255.1 473.9,258.1 475.5,261.5 C477.1,264.9 478.7,267.0 480.5,272.5 C482.3,278.0 484.5,289.2 486.5,294.5 C488.5,299.8 490.5,305.2 492.5,304.5 C494.5,303.8 496.5,296.2 498.5,290.5 C500.5,284.8 503.0,274.3 504.5,270.5 C506.0,266.7 506.2,266.5 507.5,267.5 C508.8,268.5 510.7,272.7 512.5,276.5 C514.3,280.3 516.5,286.2 518.5,290.5 C520.5,294.8 523.2,300.3 524.5,302.5 C525.8,304.7 525.2,304.5 526.5,303.5 C527.8,302.5 530.3,299.7 532.5,296.5 C534.7,293.3 537.4,288.5 539.5,284.5 C541.6,280.5 543.1,276.5 544.9,272.5 C546.7,268.5 548.7,264.2 550.3,260.5 C551.9,256.8 553.0,253.8 554.5,250.5 C556.0,247.2 557.5,243.7 559.0,240.5 C560.5,237.3 562.2,233.8 563.5,231.5 C564.8,229.2 565.5,227.6 566.5,226.5 C567.5,225.4 568.4,224.6 569.5,224.8 C570.6,225.0 572.0,228.0 573.2,227.5 C574.5,227.0 575.1,223.3 577.0,221.7 C578.9,220.1 582.0,218.8 584.5,217.9 C587.0,217.0 589.7,216.2 591.9,216.1 C594.1,215.9 595.9,216.1 597.5,217.0 C599.1,217.9 600.0,219.4 601.3,221.7 C602.5,224.0 603.8,227.0 605.0,231.0 C606.2,235.0 607.4,241.1 608.5,245.5 C609.6,249.9 610.2,254.5 611.5,257.5 C612.8,260.5 614.5,261.0 616.3,263.5 C618.1,266.0 619.9,269.5 622.5,272.5 C625.1,275.5 628.8,278.4 631.9,281.5 C635.0,284.6 638.9,288.9 641.3,291.1 C643.6,293.3 645.2,293.9 646.0,294.5"/>
<path d="M455.5,209.0 C456.1,209.7 457.7,211.0 458.8,213.0 C459.9,215.0 461.0,218.0 462.0,221.0 C463.0,224.0 463.9,227.6 465.0,230.8 C466.1,234.0 467.2,237.2 468.5,240.4 C469.8,243.6 471.4,246.6 473.0,250.0 C474.6,253.4 476.2,255.5 478.0,261.0 C479.8,266.5 482.0,277.7 484.0,283.0 C486.0,288.3 488.0,293.7 490.0,293.0 C492.0,292.3 494.0,284.7 496.0,279.0 C498.0,273.3 500.5,262.8 502.0,259.0 C503.5,255.2 503.7,255.0 505.0,256.0 C506.3,257.0 508.2,261.2 510.0,265.0 C511.8,268.8 514.0,274.7 516.0,279.0 C518.0,283.3 520.7,288.8 522.0,291.0 C523.3,293.2 522.7,293.0 524.0,292.0 C525.3,291.0 527.8,288.2 530.0,285.0 C532.2,281.8 534.9,277.0 537.0,273.0 C539.1,269.0 540.6,265.0 542.4,261.0 C544.2,257.0 546.2,252.7 547.8,249.0 C549.4,245.3 550.5,242.3 552.0,239.0 C553.5,235.7 555.0,232.2 556.5,229.0 C558.0,225.8 559.8,222.3 561.0,220.0 C562.2,217.7 563.0,216.1 564.0,215.0 C565.0,213.9 565.9,213.1 567.0,213.3 C568.1,213.5 569.5,216.5 570.7,216.0 C572.0,215.5 572.6,211.8 574.5,210.2 C576.4,208.6 579.5,207.3 582.0,206.4 C584.5,205.5 587.2,204.8 589.4,204.6 C591.6,204.4 593.4,204.6 595.0,205.5 C596.6,206.4 597.5,207.9 598.8,210.2 C600.0,212.5 601.3,215.5 602.5,219.5 C603.7,223.5 604.9,229.6 606.0,234.0 C607.1,238.4 607.7,243.0 609.0,246.0 C610.3,249.0 612.0,249.5 613.8,252.0 C615.6,254.5 617.4,258.0 620.0,261.0 C622.6,264.0 626.3,266.9 629.4,270.0 C632.5,273.1 636.4,277.4 638.8,279.6 C641.1,281.8 642.7,282.4 643.5,283.0"/>
<path d="M459.5,226.0 C460.1,226.7 461.7,228.0 462.8,230.0 C463.9,232.0 465.0,235.0 466.0,238.0 C467.0,241.0 467.9,244.6 469.0,247.8 C470.1,251.0 471.2,254.2 472.5,257.4 C473.8,260.6 475.4,263.6 477.0,267.0 C478.6,270.4 480.2,272.5 482.0,278.0 C483.8,283.5 486.0,294.7 488.0,300.0 C490.0,305.3 492.0,310.7 494.0,310.0 C496.0,309.3 498.0,301.7 500.0,296.0 C502.0,290.3 504.5,279.8 506.0,276.0 C507.5,272.2 507.7,272.0 509.0,273.0 C510.3,274.0 512.2,278.2 514.0,282.0 C515.8,285.8 518.0,291.7 520.0,296.0 C522.0,300.3 524.7,305.8 526.0,308.0 C527.3,310.2 526.7,310.0 528.0,309.0 C529.3,308.0 531.8,305.2 534.0,302.0 C536.2,298.8 538.9,294.0 541.0,290.0 C543.1,286.0 544.6,282.0 546.4,278.0 C548.2,274.0 550.2,269.7 551.8,266.0 C553.4,262.3 554.5,259.3 556.0,256.0 C557.5,252.7 559.0,249.2 560.5,246.0 C562.0,242.8 563.8,239.3 565.0,237.0 C566.2,234.7 567.0,233.1 568.0,232.0 C569.0,230.9 569.9,230.1 571.0,230.3 C572.1,230.5 573.5,233.5 574.7,233.0 C576.0,232.5 576.6,228.8 578.5,227.2 C580.4,225.6 583.5,224.3 586.0,223.4 C588.5,222.5 591.2,221.8 593.4,221.6 C595.6,221.4 597.4,221.6 599.0,222.5 C600.6,223.4 601.5,224.9 602.8,227.2 C604.0,229.5 605.3,232.5 606.5,236.5 C607.7,240.5 608.9,246.6 610.0,251.0 C611.1,255.4 611.7,260.0 613.0,263.0 C614.3,266.0 616.0,266.5 617.8,269.0 C619.6,271.5 621.4,275.0 624.0,278.0 C626.6,281.0 630.3,283.9 633.4,287.0 C636.5,290.1 640.4,294.4 642.8,296.6 C645.1,298.8 646.7,299.4 647.5,300.0"/>
<path d="M494.5,316.5 C495.5,313.2 498.5,301.0 500.5,296.5 C502.5,292.0 504.2,289.5 506.5,289.5 C508.8,289.5 511.8,294.0 514.5,296.5 C517.2,299.0 520.5,302.3 522.5,304.5 C524.5,306.7 525.2,308.7 526.5,309.5 C527.8,310.3 528.8,311.3 530.5,309.5 C532.2,307.7 534.3,301.7 536.5,298.5 C538.7,295.3 542.1,292.7 543.9,290.5 C545.7,288.3 546.2,287.3 547.5,285.5 C548.8,283.7 550.6,282.0 551.9,279.5 C553.2,277.0 554.3,273.7 555.5,270.5 C556.7,267.3 558.1,263.3 559.1,260.5 C560.1,257.7 560.5,255.7 561.3,253.5 C562.1,251.3 562.8,250.0 563.8,247.3 C564.8,244.6 565.8,239.5 567.5,237.5 C569.2,235.5 572.2,235.7 574.1,235.1 C576.0,234.5 576.8,235.8 578.8,234.2 C580.8,232.6 583.8,227.6 586.3,225.5 C588.8,223.4 591.9,221.8 593.8,221.7 C595.7,221.6 596.2,222.1 597.5,224.8 C598.8,227.5 600.2,233.9 601.3,238.0 C602.4,242.1 603.1,244.3 604.1,249.2 C605.1,254.1 605.5,262.1 607.5,267.5 C609.5,272.9 613.3,277.0 616.3,281.5 C619.3,286.0 622.4,291.1 625.5,294.3 C628.6,297.5 631.6,299.0 635.0,300.5 C638.4,302.0 644.2,303.0 646.0,303.5"/>
<path d="M492.0,305.0 C493.0,301.7 496.0,289.5 498.0,285.0 C500.0,280.5 501.7,278.0 504.0,278.0 C506.3,278.0 509.3,282.5 512.0,285.0 C514.7,287.5 518.0,290.8 520.0,293.0 C522.0,295.2 522.7,297.2 524.0,298.0 C525.3,298.8 526.3,299.8 528.0,298.0 C529.7,296.2 531.8,290.2 534.0,287.0 C536.2,283.8 539.6,281.2 541.4,279.0 C543.2,276.8 543.7,275.8 545.0,274.0 C546.3,272.2 548.1,270.5 549.4,268.0 C550.7,265.5 551.8,262.2 553.0,259.0 C554.2,255.8 555.6,251.8 556.6,249.0 C557.6,246.2 558.0,244.2 558.8,242.0 C559.6,239.8 560.3,238.5 561.3,235.8 C562.3,233.1 563.3,228.0 565.0,226.0 C566.7,224.0 569.7,224.2 571.6,223.6 C573.5,223.0 574.3,224.3 576.3,222.7 C578.3,221.1 581.3,216.1 583.8,214.0 C586.3,211.9 589.4,210.3 591.3,210.2 C593.2,210.1 593.8,210.6 595.0,213.3 C596.2,216.0 597.7,222.4 598.8,226.5 C599.9,230.6 600.6,232.8 601.6,237.7 C602.6,242.6 603.0,250.6 605.0,256.0 C607.0,261.4 610.8,265.5 613.8,270.0 C616.8,274.5 619.9,279.6 623.0,282.8 C626.1,286.0 629.1,287.5 632.5,289.0 C635.9,290.5 641.7,291.5 643.5,292.0"/>
<path d="M496.0,322.0 C497.0,318.7 500.0,306.5 502.0,302.0 C504.0,297.5 505.7,295.0 508.0,295.0 C510.3,295.0 513.3,299.5 516.0,302.0 C518.7,304.5 522.0,307.8 524.0,310.0 C526.0,312.2 526.7,314.2 528.0,315.0 C529.3,315.8 530.3,316.8 532.0,315.0 C533.7,313.2 535.8,307.2 538.0,304.0 C540.2,300.8 543.6,298.2 545.4,296.0 C547.2,293.8 547.7,292.8 549.0,291.0 C550.3,289.2 552.1,287.5 553.4,285.0 C554.7,282.5 555.8,279.2 557.0,276.0 C558.2,272.8 559.6,268.8 560.6,266.0 C561.6,263.2 562.0,261.2 562.8,259.0 C563.6,256.8 564.3,255.5 565.3,252.8 C566.3,250.1 567.3,245.0 569.0,243.0 C570.7,241.0 573.7,241.2 575.6,240.6 C577.5,240.0 578.3,241.3 580.3,239.7 C582.3,238.1 585.3,233.1 587.8,231.0 C590.3,228.9 593.4,227.3 595.3,227.2 C597.2,227.1 597.8,227.6 599.0,230.3 C600.2,233.0 601.7,239.4 602.8,243.5 C603.9,247.6 604.6,249.8 605.6,254.7 C606.6,259.6 607.0,267.6 609.0,273.0 C611.0,278.4 614.8,282.5 617.8,287.0 C620.8,291.5 623.9,296.6 627.0,299.8 C630.1,303.0 633.1,304.5 636.5,306.0 C639.9,307.5 645.7,308.5 647.5,309.0"/>
<path d="M458.0,237.5 C458.4,238.8 459.7,242.5 460.5,245.5 C461.3,248.5 462.0,250.5 463.0,255.5 C464.0,260.5 465.2,268.8 466.5,275.5 C467.8,282.2 469.2,288.7 470.5,295.5 C471.8,302.3 473.4,313.0 474.0,316.5"/>
<path d="M455.5,226.0 C455.9,227.3 457.2,231.0 458.0,234.0 C458.8,237.0 459.5,239.0 460.5,244.0 C461.5,249.0 462.8,257.3 464.0,264.0 C465.2,270.7 466.8,277.2 468.0,284.0 C469.2,290.8 470.9,301.5 471.5,305.0"/>
<path d="M459.5,243.0 C459.9,244.3 461.2,248.0 462.0,251.0 C462.8,254.0 463.5,256.0 464.5,261.0 C465.5,266.0 466.8,274.3 468.0,281.0 C469.2,287.7 470.8,294.2 472.0,301.0 C473.2,307.8 474.9,318.5 475.5,322.0"/>
<path d="M458.0,229.5 C458.6,230.5 460.2,232.6 461.3,235.5 C462.4,238.4 463.5,242.9 464.5,247.1 C465.5,251.3 466.3,254.1 467.5,260.5 C468.7,266.9 470.2,278.0 471.5,285.5 C472.8,293.0 474.0,300.3 475.0,305.5 C476.0,310.7 477.1,314.7 477.5,316.5"/>
<path d="M455.5,218.0 C456.1,219.0 457.7,221.1 458.8,224.0 C459.9,226.9 461.0,231.4 462.0,235.6 C463.0,239.8 463.8,242.6 465.0,249.0 C466.2,255.4 467.8,266.5 469.0,274.0 C470.2,281.5 471.5,288.8 472.5,294.0 C473.5,299.2 474.6,303.2 475.0,305.0"/>
<path d="M459.5,235.0 C460.1,236.0 461.7,238.1 462.8,241.0 C463.9,243.9 465.0,248.4 466.0,252.6 C467.0,256.8 467.8,259.6 469.0,266.0 C470.2,272.4 471.8,283.5 473.0,291.0 C474.2,298.5 475.5,305.8 476.5,311.0 C477.5,316.2 478.6,320.2 479.0,322.0"/>
<path d="M458.0,301.5 C459.1,302.2 462.4,303.0 464.5,305.5 C466.6,308.0 469.5,314.7 470.5,316.5"/>
<path d="M455.5,290.0 C456.6,290.7 459.9,291.5 462.0,294.0 C464.1,296.5 467.0,303.2 468.0,305.0"/>
<path d="M459.5,307.0 C460.6,307.7 463.9,308.5 466.0,311.0 C468.1,313.5 471.0,320.2 472.0,322.0"/>
<path d="M556.5,316.5 C556.8,313.0 557.8,301.5 558.5,295.5 C559.2,289.5 559.6,285.2 560.5,280.5 C561.4,275.8 562.6,272.1 563.8,267.5 C565.0,262.9 566.2,256.9 567.5,252.9 C568.8,248.9 570.2,245.7 571.3,243.5 C572.4,241.3 573.1,239.8 574.1,239.8 C575.1,239.8 575.9,240.7 577.0,243.5 C578.1,246.3 579.6,252.4 580.7,256.7 C581.8,261.0 582.6,268.4 583.5,269.5 C584.4,270.6 585.2,266.6 586.0,263.5 C586.8,260.4 587.2,255.3 588.2,251.1 C589.2,246.8 590.6,241.0 591.9,238.0 C593.1,235.0 594.4,233.3 595.7,233.3 C597.0,233.3 598.2,234.1 599.5,238.0 C600.8,241.9 602.1,250.1 603.2,256.7 C604.3,263.3 605.1,271.0 606.0,277.5 C606.9,284.0 607.8,289.0 608.5,295.5 C609.2,302.0 610.2,313.0 610.5,316.5"/>
<path d="M554.0,305.0 C554.3,301.5 555.3,290.0 556.0,284.0 C556.7,278.0 557.1,273.7 558.0,269.0 C558.9,264.3 560.1,260.6 561.3,256.0 C562.5,251.4 563.8,245.4 565.0,241.4 C566.2,237.4 567.7,234.2 568.8,232.0 C569.9,229.8 570.6,228.3 571.6,228.3 C572.6,228.3 573.4,229.2 574.5,232.0 C575.6,234.8 577.1,240.9 578.2,245.2 C579.3,249.5 580.1,256.9 581.0,258.0 C581.9,259.1 582.7,255.1 583.5,252.0 C584.3,248.9 584.7,243.8 585.7,239.6 C586.7,235.3 588.1,229.5 589.4,226.5 C590.6,223.5 591.9,221.8 593.2,221.8 C594.5,221.8 595.8,222.6 597.0,226.5 C598.2,230.4 599.6,238.6 600.7,245.2 C601.8,251.8 602.6,259.5 603.5,266.0 C604.4,272.5 605.2,277.5 606.0,284.0 C606.8,290.5 607.7,301.5 608.0,305.0"/>
<path d="M558.0,322.0 C558.3,318.5 559.3,307.0 560.0,301.0 C560.7,295.0 561.1,290.7 562.0,286.0 C562.9,281.3 564.1,277.6 565.3,273.0 C566.5,268.4 567.8,262.4 569.0,258.4 C570.2,254.4 571.7,251.2 572.8,249.0 C573.9,246.8 574.6,245.3 575.6,245.3 C576.6,245.3 577.4,246.2 578.5,249.0 C579.6,251.8 581.1,257.9 582.2,262.2 C583.3,266.5 584.1,273.9 585.0,275.0 C585.9,276.1 586.7,272.1 587.5,269.0 C588.3,265.9 588.7,260.9 589.7,256.6 C590.7,252.4 592.1,246.5 593.4,243.5 C594.6,240.5 595.9,238.8 597.2,238.8 C598.5,238.8 599.8,239.6 601.0,243.5 C602.2,247.4 603.6,255.6 604.7,262.2 C605.8,268.8 606.6,276.5 607.5,283.0 C608.4,289.5 609.2,294.5 610.0,301.0 C610.8,307.5 611.7,318.5 612.0,322.0"/>
<path d="M579.5,316.5 C579.8,313.8 580.7,305.8 581.5,300.5 C582.3,295.2 583.2,285.8 584.5,284.5 C585.8,283.2 587.7,289.8 589.5,292.5 C591.3,295.2 593.2,298.7 595.5,300.5 C597.8,302.3 601.2,302.2 603.5,303.5 C605.8,304.8 608.2,306.3 609.5,308.5 C610.8,310.7 611.2,315.2 611.5,316.5"/>
<path d="M577.0,305.0 C577.3,302.3 578.2,294.3 579.0,289.0 C579.8,283.7 580.7,274.3 582.0,273.0 C583.3,271.7 585.2,278.3 587.0,281.0 C588.8,283.7 590.7,287.2 593.0,289.0 C595.3,290.8 598.7,290.7 601.0,292.0 C603.3,293.3 605.7,294.8 607.0,297.0 C608.3,299.2 608.7,303.7 609.0,305.0"/>
<path d="M581.0,322.0 C581.3,319.3 582.2,311.3 583.0,306.0 C583.8,300.7 584.7,291.3 586.0,290.0 C587.3,288.7 589.2,295.3 591.0,298.0 C592.8,300.7 594.7,304.2 597.0,306.0 C599.3,307.8 602.7,307.7 605.0,309.0 C607.3,310.3 609.7,311.8 611.0,314.0 C612.3,316.2 612.7,320.7 613.0,322.0"/>
<path d="M607.5,255.5 C608.3,259.7 611.2,273.0 612.5,280.5 C613.8,288.0 614.7,294.5 615.5,300.5 C616.3,306.5 617.2,313.8 617.5,316.5"/>
<path d="M605.0,244.0 C605.8,248.2 608.7,261.5 610.0,269.0 C611.3,276.5 612.2,283.0 613.0,289.0 C613.8,295.0 614.7,302.3 615.0,305.0"/>
<path d="M609.0,261.0 C609.8,265.2 612.7,278.5 614.0,286.0 C615.3,293.5 616.2,300.0 617.0,306.0 C617.8,312.0 618.7,319.3 619.0,322.0"/>
<path d="M616.3,200.5 C617.3,201.3 620.5,204.2 622.5,205.2 C624.5,206.2 626.4,205.7 628.5,206.5 C630.6,207.3 632.9,208.8 635.0,209.9 C637.1,211.0 639.5,212.2 641.3,213.0 C643.1,213.8 645.2,214.2 646.0,214.5"/>
<path d="M613.8,189.0 C614.8,189.8 618.0,192.7 620.0,193.7 C622.0,194.7 623.9,194.2 626.0,195.0 C628.1,195.8 630.4,197.3 632.5,198.4 C634.6,199.5 637.0,200.7 638.8,201.5 C640.6,202.3 642.7,202.8 643.5,203.0"/>
<path d="M617.8,206.0 C618.8,206.8 622.0,209.7 624.0,210.7 C626.0,211.7 627.9,211.2 630.0,212.0 C632.1,212.8 634.4,214.3 636.5,215.4 C638.6,216.5 641.0,217.7 642.8,218.5 C644.6,219.3 646.7,219.8 647.5,220.0"/>
</g>
<g fill="none" stroke="#2a1c14" stroke-width="1.35">
<path d="M456.5,122.5 C457.9,122.6 462.9,122.6 465.0,123.0 C467.1,123.4 467.2,122.8 469.0,125.0 C470.8,127.2 473.3,131.9 475.6,136.0 C477.9,140.1 480.5,144.6 483.0,149.3 C485.5,154.0 488.4,159.9 490.6,164.3 C492.8,168.7 494.5,172.9 496.2,175.6 C497.9,178.2 499.3,180.0 500.9,180.2 C502.5,180.3 503.9,178.8 505.6,176.5 C507.3,174.2 509.3,170.1 511.2,166.2 C513.1,162.3 514.9,156.7 516.8,153.1 C518.7,149.5 520.7,146.4 522.4,144.7 C524.1,143.0 525.6,142.5 527.0,142.8 C528.4,143.1 529.7,144.2 530.8,146.5 C531.9,148.8 532.6,152.9 533.7,156.8 C534.8,160.7 536.4,167.4 537.4,170.0 C538.4,172.6 539.0,172.9 540.0,172.5 C541.0,172.1 542.1,169.1 543.6,167.5 C545.1,165.9 547.4,164.2 549.0,162.8 C550.6,161.4 551.2,160.9 553.0,159.0 C554.8,157.1 557.2,153.2 560.0,151.5 C562.8,149.8 567.2,148.2 570.0,149.0 C572.8,149.8 575.0,156.7 577.0,156.0 C579.0,155.3 580.3,146.8 582.0,145.0 C583.7,143.2 585.0,146.7 587.0,145.0 C589.0,143.3 592.0,135.8 594.0,135.0 C596.0,134.2 597.5,137.8 599.0,140.0 C600.5,142.2 601.3,145.7 603.0,148.0 C604.7,150.3 607.0,152.0 609.0,154.0 C611.0,156.0 613.2,157.3 615.0,160.0 C616.8,162.7 618.3,166.0 620.0,170.0 C621.7,174.0 623.5,181.0 625.0,184.0 C626.5,187.0 627.3,186.8 629.0,188.0 C630.7,189.2 633.0,189.3 635.0,191.0 C637.0,192.7 639.4,195.8 641.0,198.0 C642.6,200.2 643.9,203.0 644.5,204.0"/>
<path d="M548.0,40.0 C548.5,40.8 549.7,41.6 551.3,45.0 C552.9,48.4 555.5,55.5 557.6,60.4 C559.7,65.3 562.1,73.6 564.0,74.4 C565.9,75.2 567.3,69.1 569.0,65.5 C570.7,61.9 572.9,57.0 574.2,52.8 C575.5,48.5 576.3,42.1 576.7,40.0"/>
<path d="M456.5,167.1 C457.5,168.2 460.6,170.7 462.5,173.7 C464.4,176.7 466.4,181.8 468.1,185.0 C469.9,188.2 470.2,189.7 473.0,193.0 C475.8,196.3 481.0,202.1 485.0,205.0 C489.0,207.9 493.8,211.8 497.0,210.5 C500.2,209.2 502.0,198.6 504.0,197.5 C506.0,196.4 507.5,202.2 509.0,204.0 C510.5,205.8 511.3,206.3 513.0,208.0 C514.7,209.7 516.7,214.2 519.0,214.0 C521.3,213.8 524.0,210.5 527.0,207.0 C530.0,203.5 534.5,194.8 537.0,193.0 C539.5,191.2 540.0,196.1 541.7,196.5 C543.4,196.9 545.9,197.0 547.4,195.6 C548.9,194.2 549.9,191.4 551.0,188.0 C552.1,184.6 553.0,179.7 554.0,175.0 C555.0,170.3 556.0,165.8 556.7,160.0 C557.5,154.2 557.9,147.0 558.5,140.0 C559.1,133.0 559.8,124.3 560.5,118.0 C561.2,111.7 562.2,105.8 563.0,102.0 C563.8,98.2 564.3,95.5 565.3,95.0 C566.3,94.5 567.5,95.7 569.0,99.0 C570.5,102.3 572.5,110.2 574.0,115.0 C575.5,119.8 576.8,124.7 578.0,128.0 C579.2,131.3 579.8,135.0 581.0,135.0 C582.2,135.0 583.7,130.2 585.0,128.0 C586.3,125.8 587.5,123.2 589.0,122.0 C590.5,120.8 592.2,121.0 594.0,121.0 C595.8,121.0 598.0,121.0 600.0,122.0 C602.0,123.0 603.8,124.0 606.0,127.0 C608.2,130.0 610.5,135.8 613.0,140.0 C615.5,144.2 618.7,148.3 621.0,152.0 C623.3,155.7 625.2,159.0 627.0,162.0 C628.8,165.0 630.3,170.0 632.0,170.0 C633.7,170.0 635.5,165.0 637.0,162.0 C638.5,159.0 639.8,155.2 641.0,152.0 C642.2,148.8 643.9,144.5 644.5,143.0"/>
<path d="M456.5,134.4 C457.2,135.3 459.3,136.9 460.6,140.0 C461.9,143.1 463.1,148.7 464.4,153.1 C465.6,157.5 466.7,162.8 468.1,166.2 C469.5,169.6 471.2,172.1 472.8,173.7 C474.4,175.3 475.8,175.0 477.5,175.6 C479.2,176.2 481.4,176.2 483.1,177.4 C484.8,178.6 486.4,180.1 487.8,183.0 C489.2,185.9 490.5,191.3 491.5,195.0 C492.5,198.7 493.1,202.4 494.0,205.0 C494.9,207.6 496.5,209.6 497.0,210.5"/>
<path d="M456.5,194.0 C457.9,194.7 462.6,196.5 465.0,198.0 C467.4,199.5 468.7,201.3 471.0,203.0 C473.3,204.7 476.3,206.7 479.0,208.0 C481.7,209.3 484.0,210.3 487.0,211.0 C490.0,211.7 494.0,212.3 497.0,212.0 C500.0,211.7 503.0,208.2 505.0,209.0 C507.0,209.8 507.7,214.3 509.0,217.0 C510.3,219.7 511.3,224.2 513.0,225.0 C514.7,225.8 517.0,221.5 519.0,222.0 C521.0,222.5 523.0,226.3 525.0,228.0 C527.0,229.7 529.3,232.0 531.0,232.0 C532.7,232.0 533.7,229.8 535.0,228.0 C536.3,226.2 537.2,224.8 539.0,221.0 C540.8,217.2 543.2,208.6 545.5,205.0 C547.8,201.4 550.5,199.6 553.0,199.3 C555.5,199.0 558.3,203.0 560.5,203.0 C562.7,203.0 564.3,202.4 566.0,199.3 C567.7,196.2 569.4,189.0 570.8,184.3 C572.2,179.6 573.2,174.6 574.5,171.2 C575.8,167.8 576.9,164.5 578.3,163.7 C579.7,162.9 581.3,165.7 583.0,166.5 C584.7,167.3 586.7,168.2 588.6,168.4 C590.5,168.6 592.3,166.7 594.2,167.5 C596.1,168.3 597.9,170.5 599.8,173.0 C601.7,175.5 603.2,179.4 605.4,182.5 C607.6,185.6 610.9,189.3 613.0,191.8 C615.1,194.3 616.3,195.5 618.0,197.5 C619.7,199.5 621.2,201.2 623.0,204.0 C624.8,206.8 626.8,210.5 629.0,214.0 C631.2,217.5 633.4,222.0 636.0,225.0 C638.6,228.0 643.1,230.8 644.5,232.0"/>
<path d="M456.5,210.0 C457.3,210.2 459.8,210.0 461.4,211.0 C463.0,212.0 464.4,213.6 466.0,216.0 C467.6,218.4 469.3,222.0 471.0,225.5 C472.7,229.0 474.4,233.3 476.0,236.8 C477.6,240.3 479.1,244.1 480.7,246.4 C482.3,248.7 483.9,250.4 485.5,250.4 C487.1,250.4 488.7,248.7 490.3,246.4 C491.9,244.1 493.4,240.4 495.0,236.8 C496.6,233.2 498.3,225.0 500.0,225.0 C501.7,225.0 503.8,234.7 505.0,237.0 C506.2,239.3 505.7,239.5 507.0,239.0 C508.3,238.5 511.3,233.3 513.0,234.0 C514.7,234.7 515.7,239.8 517.0,243.0 C518.3,246.2 519.7,250.7 521.0,253.0 C522.3,255.3 523.7,257.0 525.0,257.0 C526.3,257.0 527.3,254.5 529.0,253.0 C530.7,251.5 532.7,249.3 535.0,248.0 C537.3,246.7 540.7,246.7 543.0,245.0 C545.3,243.3 547.3,241.3 549.0,238.0 C550.7,234.7 551.5,229.3 553.0,225.0 C554.5,220.7 555.8,215.3 558.0,212.0 C560.2,208.7 563.1,206.9 566.0,205.0 C568.9,203.1 572.7,202.0 575.5,200.3 C578.3,198.6 580.8,195.7 583.0,194.6 C585.2,193.5 586.7,193.7 588.6,193.7 C590.5,193.7 592.3,194.0 594.2,194.6 C596.1,195.2 598.2,195.8 599.8,197.5 C601.3,199.2 602.2,201.9 603.5,205.0 C604.8,208.1 606.0,212.0 607.3,216.2 C608.5,220.4 609.8,226.7 611.0,230.0 C612.2,233.3 613.1,233.8 614.8,236.0 C616.5,238.2 619.0,241.6 621.0,243.4 C623.0,245.2 624.4,245.6 627.0,246.6 C629.6,247.6 633.7,248.6 636.6,249.7 C639.5,250.8 643.2,252.4 644.5,253.0"/>
<path d="M456.5,215.0 C457.1,215.7 458.7,217.0 459.8,219.0 C460.9,221.0 462.0,224.0 463.0,227.0 C464.0,230.0 464.9,233.6 466.0,236.8 C467.1,240.0 468.2,243.2 469.5,246.4 C470.8,249.6 472.4,252.6 474.0,256.0 C475.6,259.4 477.2,261.5 479.0,267.0 C480.8,272.5 483.0,283.7 485.0,289.0 C487.0,294.3 489.0,299.7 491.0,299.0 C493.0,298.3 495.0,290.7 497.0,285.0 C499.0,279.3 501.5,268.8 503.0,265.0 C504.5,261.2 504.7,261.0 506.0,262.0 C507.3,263.0 509.2,267.2 511.0,271.0 C512.8,274.8 515.0,280.7 517.0,285.0 C519.0,289.3 521.7,294.8 523.0,297.0 C524.3,299.2 523.7,299.0 525.0,298.0 C526.3,297.0 528.8,294.2 531.0,291.0 C533.2,287.8 535.9,283.0 538.0,279.0 C540.1,275.0 541.6,271.0 543.4,267.0 C545.2,263.0 547.2,258.7 548.8,255.0 C550.4,251.3 551.5,248.3 553.0,245.0 C554.5,241.7 556.0,238.2 557.5,235.0 C559.0,231.8 560.8,228.3 562.0,226.0 C563.2,223.7 564.0,222.1 565.0,221.0 C566.0,219.9 566.9,219.1 568.0,219.3 C569.1,219.5 570.5,222.5 571.7,222.0 C573.0,221.5 573.6,217.8 575.5,216.2 C577.4,214.6 580.5,213.3 583.0,212.4 C585.5,211.5 588.2,210.8 590.4,210.6 C592.6,210.4 594.4,210.6 596.0,211.5 C597.6,212.4 598.5,213.9 599.8,216.2 C601.0,218.5 602.3,221.5 603.5,225.5 C604.7,229.5 605.9,235.6 607.0,240.0 C608.1,244.4 608.7,249.0 610.0,252.0 C611.3,255.0 613.0,255.5 614.8,258.0 C616.6,260.5 618.4,264.0 621.0,267.0 C623.6,270.0 627.3,272.9 630.4,276.0 C633.5,279.1 637.4,283.4 639.8,285.6 C642.1,287.8 643.7,288.4 644.5,289.0"/>
<path d="M493.0,311.0 C494.0,307.7 497.0,295.5 499.0,291.0 C501.0,286.5 502.7,284.0 505.0,284.0 C507.3,284.0 510.3,288.5 513.0,291.0 C515.7,293.5 519.0,296.8 521.0,299.0 C523.0,301.2 523.7,303.2 525.0,304.0 C526.3,304.8 527.3,305.8 529.0,304.0 C530.7,302.2 532.8,296.2 535.0,293.0 C537.2,289.8 540.6,287.2 542.4,285.0 C544.2,282.8 544.7,281.8 546.0,280.0 C547.3,278.2 549.1,276.5 550.4,274.0 C551.7,271.5 552.8,268.2 554.0,265.0 C555.2,261.8 556.6,257.8 557.6,255.0 C558.6,252.2 559.0,250.2 559.8,248.0 C560.6,245.8 561.3,244.5 562.3,241.8 C563.3,239.1 564.3,234.0 566.0,232.0 C567.7,230.0 570.7,230.2 572.6,229.6 C574.5,229.0 575.3,230.3 577.3,228.7 C579.3,227.1 582.3,222.1 584.8,220.0 C587.3,217.9 590.4,216.3 592.3,216.2 C594.2,216.1 594.8,216.6 596.0,219.3 C597.2,222.0 598.7,228.4 599.8,232.5 C600.9,236.6 601.6,238.8 602.6,243.7 C603.6,248.6 604.0,256.6 606.0,262.0 C608.0,267.4 611.8,271.5 614.8,276.0 C617.8,280.5 620.9,285.6 624.0,288.8 C627.1,292.0 630.1,293.5 633.5,295.0 C636.9,296.5 642.7,297.5 644.5,298.0"/>
<path d="M456.5,232.0 C456.9,233.3 458.2,237.0 459.0,240.0 C459.8,243.0 460.5,245.0 461.5,250.0 C462.5,255.0 463.8,263.3 465.0,270.0 C466.2,276.7 467.8,283.2 469.0,290.0 C470.2,296.8 471.9,307.5 472.5,311.0"/>
<path d="M456.5,224.0 C457.1,225.0 458.7,227.1 459.8,230.0 C460.9,232.9 462.0,237.4 463.0,241.6 C464.0,245.8 464.8,248.6 466.0,255.0 C467.2,261.4 468.8,272.5 470.0,280.0 C471.2,287.5 472.5,294.8 473.5,300.0 C474.5,305.2 475.6,309.2 476.0,311.0"/>
<path d="M456.5,296.0 C457.6,296.7 460.9,297.5 463.0,300.0 C465.1,302.5 468.0,309.2 469.0,311.0"/>
<path d="M555.0,311.0 C555.3,307.5 556.3,296.0 557.0,290.0 C557.7,284.0 558.1,279.7 559.0,275.0 C559.9,270.3 561.1,266.6 562.3,262.0 C563.5,257.4 564.8,251.4 566.0,247.4 C567.2,243.4 568.7,240.2 569.8,238.0 C570.9,235.8 571.6,234.3 572.6,234.3 C573.6,234.3 574.4,235.2 575.5,238.0 C576.6,240.8 578.1,246.9 579.2,251.2 C580.3,255.5 581.1,262.9 582.0,264.0 C582.9,265.1 583.7,261.1 584.5,258.0 C585.3,254.9 585.7,249.8 586.7,245.6 C587.7,241.3 589.1,235.5 590.4,232.5 C591.6,229.5 592.9,227.8 594.2,227.8 C595.5,227.8 596.8,228.6 598.0,232.5 C599.2,236.4 600.6,244.6 601.7,251.2 C602.8,257.8 603.6,265.5 604.5,272.0 C605.4,278.5 606.2,283.5 607.0,290.0 C607.8,296.5 608.7,307.5 609.0,311.0"/>
<path d="M578.0,311.0 C578.3,308.3 579.2,300.3 580.0,295.0 C580.8,289.7 581.7,280.3 583.0,279.0 C584.3,277.7 586.2,284.3 588.0,287.0 C589.8,289.7 591.7,293.2 594.0,295.0 C596.3,296.8 599.7,296.7 602.0,298.0 C604.3,299.3 606.7,300.8 608.0,303.0 C609.3,305.2 609.7,309.7 610.0,311.0"/>
<path d="M606.0,250.0 C606.8,254.2 609.7,267.5 611.0,275.0 C612.3,282.5 613.2,289.0 614.0,295.0 C614.8,301.0 615.7,308.3 616.0,311.0"/>
<path d="M614.8,195.0 C615.8,195.8 619.0,198.7 621.0,199.7 C623.0,200.7 624.9,200.2 627.0,201.0 C629.1,201.8 631.4,203.3 633.5,204.4 C635.6,205.5 638.0,206.7 639.8,207.5 C641.6,208.3 643.7,208.8 644.5,209.0"/>
</g>
</g>
<rect x="456.5" y="40.3" width="187.5" height="270.5" fill="none" stroke="#666" stroke-width="1.1"/>
<text x="422.3" y="20.5" font-size="24" text-anchor="start" font-weight="bold" font-style="normal" fill="#231f20" font-family='"Liberation Sans", sans-serif' >d</text>
<line x1="453" y1="83" x2="456.5" y2="83" stroke="#333" stroke-width="1"/>
<text x="452.8" y="89.5" font-size="18" text-anchor="end" font-weight="normal" font-style="normal" fill="#231f20" font-family='"Liberation Sans", sans-serif' >0</text>
<line x1="453" y1="157" x2="456.5" y2="157" stroke="#333" stroke-width="1"/>
<text x="452.8" y="163.5" font-size="18" text-anchor="end" font-weight="normal" font-style="normal" fill="#231f20" font-family='"Liberation Sans", sans-serif' >-1</text>
<line x1="453" y1="231.5" x2="456.5" y2="231.5" stroke="#333" stroke-width="1"/>
<text x="452.8" y="238.0" font-size="18" text-anchor="end" font-weight="normal" font-style="normal" fill="#231f20" font-family='"Liberation Sans", sans-serif' >-2</text>
<line x1="453" y1="307" x2="456.5" y2="307" stroke="#333" stroke-width="1"/>
<text x="452.8" y="313.5" font-size="18" text-anchor="end" font-weight="normal" font-style="normal" fill="#231f20" font-family='"Liberation Sans", sans-serif' >-3</text>
<text transform="translate(437.5,208.8) rotate(-90)" font-size="18" fill="#231f20" font-family='"Liberation Sans", sans-serif'><tspan font-style="italic">E</tspan>-<tspan font-style="italic">E</tspan><tspan font-size="12" dy="3.5">F</tspan><tspan dy="-3.5"> (eV)</tspan></text>
<line x1="458" y1="311" x2="458" y2="317" stroke="#231f20" stroke-width="1.2"/>
<rect x="451.5" y="316.6" width="13" height="2" fill="#231f20"/>
<text x="459" y="332.6" font-size="17" text-anchor="middle" font-weight="normal" font-style="normal" fill="#231f20" font-family='"Liberation Sans", sans-serif' >Γ</text>
<line x1="508" y1="311" x2="508" y2="317" stroke="#231f20" stroke-width="1.2"/>
<rect x="501.5" y="316.6" width="13" height="2" fill="#231f20"/>
<text x="508" y="332.6" font-size="17" text-anchor="middle" font-weight="normal" font-style="normal" fill="#231f20" font-family='"Liberation Sans", sans-serif' >X</text>
<line x1="531" y1="311" x2="531" y2="317" stroke="#231f20" stroke-width="1.2"/>
<rect x="524.5" y="316.6" width="13" height="2" fill="#231f20"/>
<text x="531" y="332.6" font-size="17" text-anchor="middle" font-weight="normal" font-style="normal" fill="#231f20" font-family='"Liberation Sans", sans-serif' >M</text>
<line x1="571.4" y1="311" x2="571.4" y2="317" stroke="#231f20" stroke-width="1.2"/>
<rect x="564.9" y="316.6" width="13" height="2" fill="#231f20"/>
<text x="571.4" y="332.6" font-size="17" text-anchor="middle" font-weight="normal" font-style="normal" fill="#231f20" font-family='"Liberation Sans", sans-serif' >Y</text>
<line x1="593.6" y1="311" x2="593.6" y2="317" stroke="#231f20" stroke-width="1.2"/>
<rect x="587.1" y="316.6" width="13" height="2" fill="#231f20"/>
<text x="594.6" y="332.6" font-size="17" text-anchor="middle" font-weight="normal" font-style="normal" fill="#231f20" font-family='"Liberation Sans", sans-serif' >Γ</text>
<line x1="643.6" y1="311" x2="643.6" y2="317" stroke="#231f20" stroke-width="1.2"/>
<rect x="637.1" y="316.6" width="13" height="2" fill="#231f20"/>
<text x="643.6" y="332.6" font-size="17" text-anchor="middle" font-weight="normal" font-style="normal" fill="#231f20" font-family='"Liberation Sans", sans-serif' >M</text>
<text x="669.5" y="197.2" font-size="11" text-anchor="middle" font-weight="normal" font-style="normal" fill="#231f20" font-family='"Liberation Sans", sans-serif' >MAX.</text>
<rect x="660.7" y="205" width="15.3" height="30.2" fill="url(#gbar)" stroke="#333" stroke-width="1"/>
<text x="669" y="247.8" font-size="11" text-anchor="middle" font-weight="normal" font-style="normal" fill="#231f20" font-family='"Liberation Sans", sans-serif' >MIN.</text>
<text x="668.3" y="271.6" font-size="11" text-anchor="middle" font-weight="normal" font-style="normal" fill="#231f20" font-family='"Liberation Sans", sans-serif' >MAX.</text>
<rect x="660.7" y="279" width="15.3" height="31.6" fill="url(#obar)" stroke="#333" stroke-width="1"/>
<text x="668.5" y="321.2" font-size="11" text-anchor="middle" font-weight="normal" font-style="normal" fill="#231f20" font-family='"Liberation Sans", sans-serif' >MIN.</text>
</svg></body></html>
